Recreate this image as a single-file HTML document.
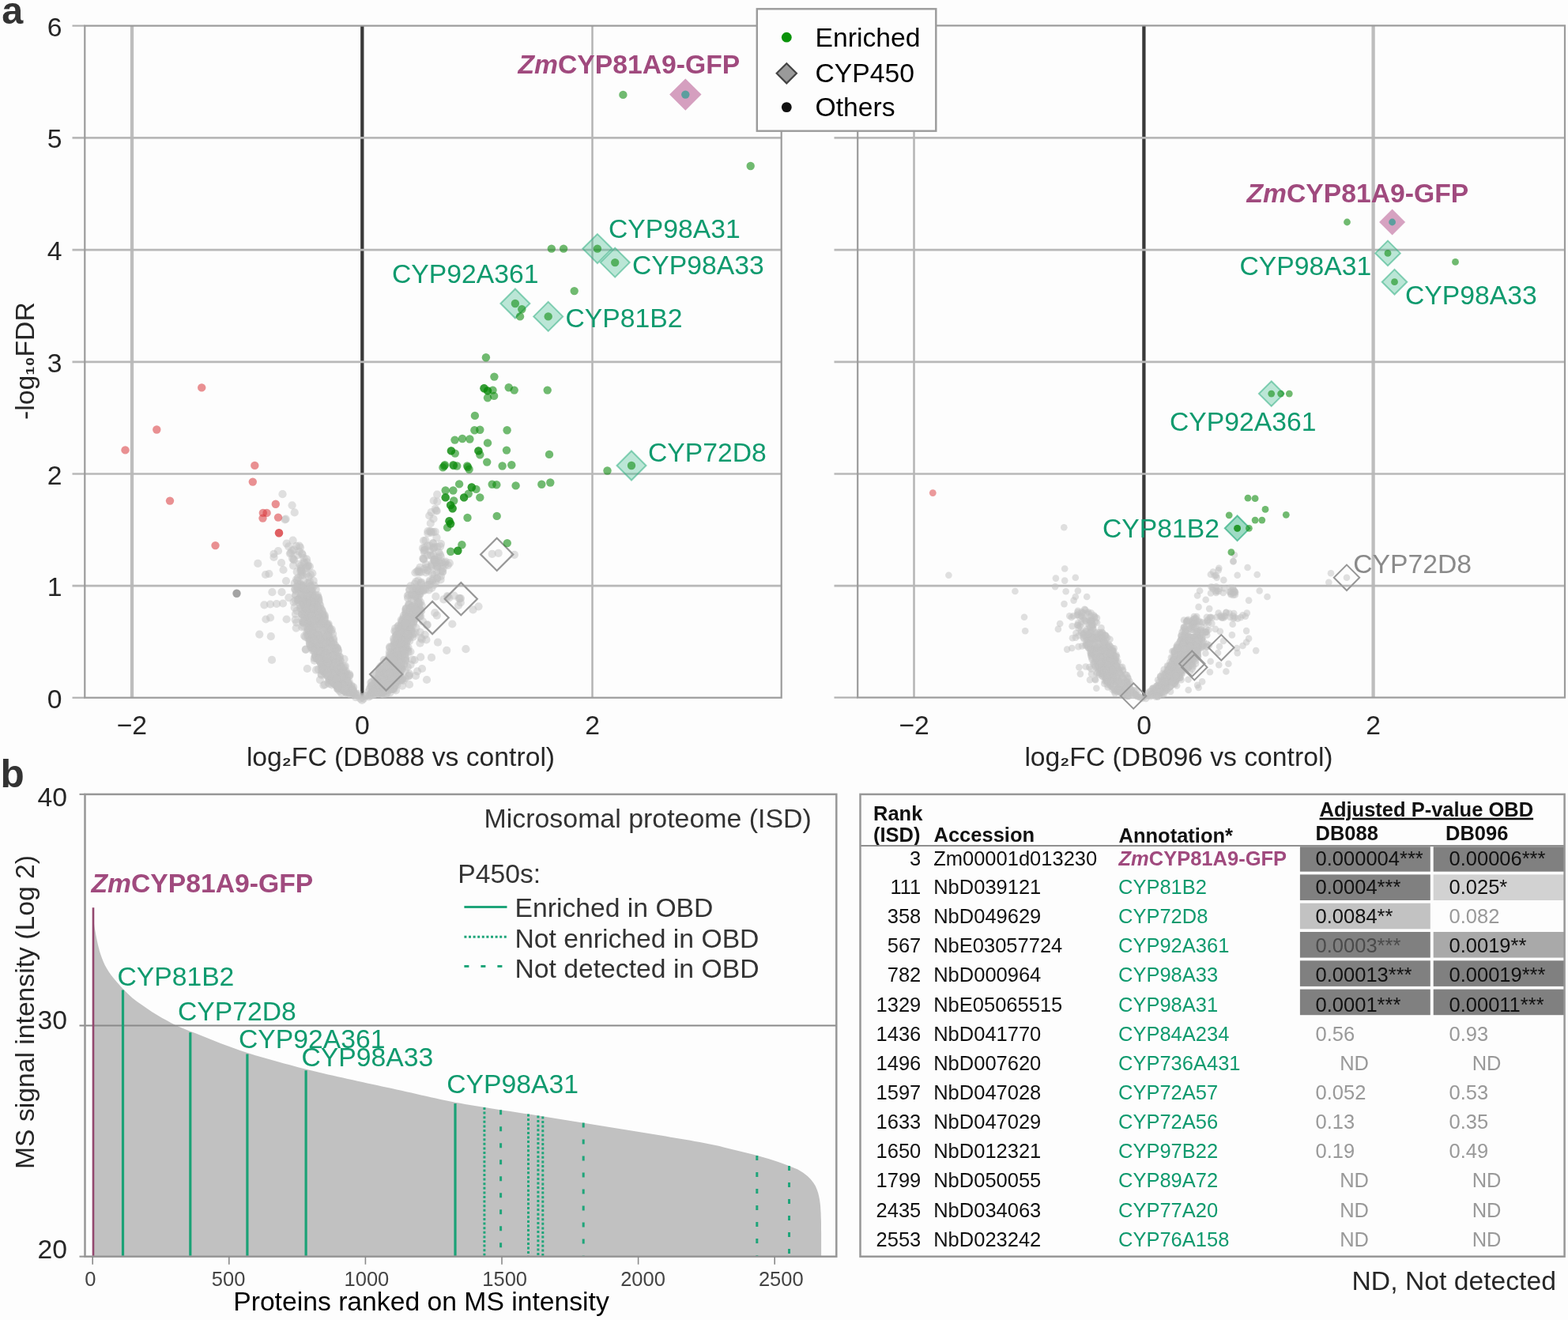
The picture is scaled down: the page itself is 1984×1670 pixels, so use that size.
<!DOCTYPE html>
<html lang="en">
<head>
<meta charset="utf-8">
<title>Proteomics of oil body domains: volcano plots, ranked MS intensity and P450 table</title>
<style>
html,body{margin:0;padding:0;background:#fdfdfd;}
body{width:1984px;height:1670px;overflow:hidden;}
svg{display:block;font-family:'Liberation Sans', Arial, Helvetica, sans-serif;font-size:33.7px;}
</style>
</head>
<body>
<svg width="1984" height="1670" viewBox="0 0 1984 1670" fill="#262626">
<rect width="1984" height="1670" fill="#fdfdfd"/>
<line x1="167" y1="32.6" x2="167" y2="882.7" stroke="#bdbdbd" stroke-width="4.3"/>
<line x1="749.5" y1="32.6" x2="749.5" y2="882.7" stroke="#b4b4b4" stroke-width="2.5"/>
<line x1="458.3" y1="32.6" x2="458.3" y2="882.7" stroke="#3a3a3a" stroke-width="4.3"/>
<line x1="91.5" y1="174.4" x2="988.7" y2="174.4" stroke="#b8b8b8" stroke-width="2.6"/>
<line x1="91.5" y1="316.1" x2="988.7" y2="316.1" stroke="#b8b8b8" stroke-width="2.6"/>
<line x1="91.5" y1="457.9" x2="988.7" y2="457.9" stroke="#b8b8b8" stroke-width="2.6"/>
<line x1="91.5" y1="599.5" x2="988.7" y2="599.5" stroke="#b8b8b8" stroke-width="2.6"/>
<line x1="91.5" y1="741.1" x2="988.7" y2="741.1" stroke="#b8b8b8" stroke-width="2.6"/>
<line x1="91.5" y1="32.6" x2="107.3" y2="32.6" stroke="#b0b0b0" stroke-width="2.2"/>
<line x1="91.5" y1="882.7" x2="107.3" y2="882.7" stroke="#b0b0b0" stroke-width="2.2"/>
<rect x="107.3" y="32.6" width="881.4" height="850.1" fill="none" stroke="#9b9b9b" stroke-width="2.2"/>
<path d="M376 754.7L382 768.8L385 782.9L388 797L392 811L398 825L402 839L408 853.5L420.5 867.6L432 876L449 882L454 882L449 876L445 867.6L440.5 853.5L433 839L427 825L421.5 811L417 797L410 782.9L405.5 768.8L400 754.7Z" fill="#cdcdcd" stroke="#cdcdcd" stroke-width="3" stroke-linejoin="round"/>
<path d="M516 769L510.7 783L503.6 797L499.4 811L495 825.2L488 839.3L477 853.5L470.5 867.6L467 874.6L463 882L471 882L499 874.6L503 867.6L509.5 853.5L511 839.3L513 825.2L515.5 811L519 797L524.5 783L533 769Z" fill="#cdcdcd" stroke="#cdcdcd" stroke-width="3" stroke-linejoin="round"/>
<g fill="#c2c2c2" fill-opacity="0.5">
<circle cx="404.4" cy="788.7" r="5.1"/><circle cx="383.2" cy="747.9" r="5.1"/><circle cx="373.8" cy="745.4" r="5.1"/><circle cx="390.5" cy="803.9" r="5.1"/><circle cx="391.4" cy="803.2" r="5.1"/><circle cx="407.9" cy="773.1" r="5.1"/><circle cx="428.1" cy="823.1" r="5.1"/><circle cx="380.6" cy="743.2" r="5.1"/><circle cx="384.6" cy="759.9" r="5.1"/><circle cx="427.1" cy="853" r="5.1"/><circle cx="416.3" cy="831.1" r="5.1"/><circle cx="378.5" cy="745.8" r="5.1"/><circle cx="410" cy="836.6" r="5.1"/><circle cx="405.4" cy="824.4" r="5.1"/><circle cx="413.5" cy="850.9" r="5.1"/><circle cx="424.6" cy="823.2" r="5.1"/><circle cx="436.8" cy="842.7" r="5.1"/><circle cx="395.9" cy="755.8" r="5.1"/><circle cx="377.4" cy="761.3" r="5.1"/><circle cx="418.9" cy="835.6" r="5.1"/><circle cx="435" cy="860.4" r="5.1"/><circle cx="411.2" cy="825.7" r="5.1"/><circle cx="425.2" cy="856.5" r="5.1"/><circle cx="423.1" cy="834.6" r="5.1"/><circle cx="426.6" cy="832.7" r="5.1"/><circle cx="402.5" cy="782.7" r="5.1"/><circle cx="376.9" cy="738.7" r="5.1"/><circle cx="395.9" cy="754.9" r="5.1"/><circle cx="386" cy="757.5" r="5.1"/><circle cx="426.2" cy="859.7" r="5.1"/><circle cx="421.3" cy="819.8" r="5.1"/><circle cx="424.4" cy="858.6" r="5.1"/><circle cx="416.7" cy="794" r="5.1"/><circle cx="382.9" cy="761.1" r="5.1"/><circle cx="398" cy="774.8" r="5.1"/><circle cx="394.2" cy="779.4" r="5.1"/><circle cx="417.4" cy="795.7" r="5.1"/><circle cx="421.3" cy="837.9" r="5.1"/><circle cx="430.6" cy="835.8" r="5.1"/><circle cx="433.3" cy="849.2" r="5.1"/><circle cx="389.4" cy="798.6" r="5.1"/><circle cx="399.3" cy="830.3" r="5.1"/><circle cx="389.5" cy="770.3" r="5.1"/><circle cx="376.8" cy="743.9" r="5.1"/><circle cx="374" cy="752.7" r="5.1"/><circle cx="416.7" cy="860.6" r="5.1"/><circle cx="392.1" cy="777.8" r="5.1"/><circle cx="403.2" cy="756.7" r="5.1"/><circle cx="391.7" cy="808.5" r="5.1"/><circle cx="380.9" cy="752.7" r="5.1"/><circle cx="406.9" cy="854.2" r="5.1"/><circle cx="427.2" cy="871.6" r="5.1"/><circle cx="410.8" cy="818.6" r="5.1"/><circle cx="445.9" cy="876.7" r="5.1"/><circle cx="386.5" cy="779" r="5.1"/><circle cx="431.9" cy="847.7" r="5.1"/><circle cx="409.8" cy="789.3" r="5.1"/><circle cx="449.6" cy="877.9" r="5.1"/><circle cx="413.9" cy="853.4" r="5.1"/><circle cx="392.2" cy="815.1" r="5.1"/><circle cx="379.4" cy="739.8" r="5.1"/><circle cx="415.3" cy="838.2" r="5.1"/><circle cx="447.2" cy="869.4" r="5.1"/><circle cx="392.6" cy="794.9" r="5.1"/><circle cx="397.2" cy="768.5" r="5.1"/><circle cx="429.8" cy="863.8" r="5.1"/><circle cx="400.7" cy="833.2" r="5.1"/><circle cx="425.9" cy="834.5" r="5.1"/><circle cx="408.6" cy="845.2" r="5.1"/><circle cx="433.9" cy="850" r="5.1"/><circle cx="437.5" cy="875.2" r="5.1"/><circle cx="427.2" cy="871.1" r="5.1"/><circle cx="400.7" cy="756.8" r="5.1"/><circle cx="435.7" cy="851.8" r="5.1"/><circle cx="438.4" cy="876.6" r="5.1"/><circle cx="393.4" cy="819.3" r="5.1"/><circle cx="440" cy="874.7" r="5.1"/><circle cx="444.3" cy="868.5" r="5.1"/><circle cx="415.5" cy="854.3" r="5.1"/><circle cx="400.5" cy="783.8" r="5.1"/><circle cx="385.5" cy="779.1" r="5.1"/><circle cx="430.1" cy="865.4" r="5.1"/><circle cx="409.4" cy="824.1" r="5.1"/><circle cx="432.8" cy="866.1" r="5.1"/><circle cx="406.8" cy="816.2" r="5.1"/><circle cx="401.2" cy="765.9" r="5.1"/><circle cx="398.4" cy="764.4" r="5.1"/><circle cx="411.3" cy="820.6" r="5.1"/><circle cx="397" cy="820.3" r="5.1"/><circle cx="403" cy="820.6" r="5.1"/><circle cx="423.8" cy="847.7" r="5.1"/><circle cx="419" cy="846.7" r="5.1"/><circle cx="414" cy="828.1" r="5.1"/><circle cx="418.5" cy="838.5" r="5.1"/><circle cx="413.5" cy="810.6" r="5.1"/><circle cx="420.6" cy="860.8" r="5.1"/><circle cx="422.5" cy="821" r="5.1"/><circle cx="387.9" cy="758.7" r="5.1"/><circle cx="375" cy="747.7" r="5.1"/><circle cx="430.5" cy="835.6" r="5.1"/><circle cx="395.6" cy="762.1" r="5.1"/><circle cx="403.6" cy="759.7" r="5.1"/><circle cx="391.8" cy="772.6" r="5.1"/><circle cx="418.6" cy="811.9" r="5.1"/><circle cx="391.6" cy="762.5" r="5.1"/><circle cx="394.5" cy="791.2" r="5.1"/><circle cx="420.5" cy="841.3" r="5.1"/><circle cx="399" cy="804.5" r="5.1"/><circle cx="398.9" cy="829.3" r="5.1"/><circle cx="452.7" cy="877.9" r="5.1"/><circle cx="374.4" cy="753.2" r="5.1"/><circle cx="408.3" cy="848.8" r="5.1"/><circle cx="415.2" cy="802.6" r="5.1"/><circle cx="408.9" cy="778.9" r="5.1"/><circle cx="397.5" cy="822.7" r="5.1"/><circle cx="384.6" cy="745.5" r="5.1"/><circle cx="390.9" cy="748.1" r="5.1"/><circle cx="436.5" cy="851.1" r="5.1"/><circle cx="385.6" cy="746.9" r="5.1"/><circle cx="414.4" cy="791.4" r="5.1"/><circle cx="397.6" cy="780.1" r="5.1"/><circle cx="385.5" cy="775.2" r="5.1"/><circle cx="381.3" cy="744" r="5.1"/><circle cx="392.1" cy="786" r="5.1"/><circle cx="402.1" cy="812.6" r="5.1"/><circle cx="372.8" cy="737.9" r="5.1"/><circle cx="408.2" cy="843.4" r="5.1"/><circle cx="392.8" cy="810" r="5.1"/><circle cx="423.9" cy="853.2" r="5.1"/><circle cx="425.4" cy="855" r="5.1"/><circle cx="411.5" cy="838.2" r="5.1"/><circle cx="430.3" cy="855.2" r="5.1"/><circle cx="388.3" cy="800.4" r="5.1"/><circle cx="396.1" cy="757.4" r="5.1"/><circle cx="383.9" cy="778.3" r="5.1"/><circle cx="432.2" cy="856.5" r="5.1"/><circle cx="391.2" cy="782.6" r="5.1"/><circle cx="403.9" cy="807.7" r="5.1"/><circle cx="410.9" cy="780" r="5.1"/><circle cx="426.2" cy="819.4" r="5.1"/><circle cx="383.3" cy="787" r="5.1"/><circle cx="402.5" cy="796.8" r="5.1"/><circle cx="379.6" cy="769.3" r="5.1"/><circle cx="393.6" cy="779.5" r="5.1"/><circle cx="380.8" cy="742.1" r="5.1"/><circle cx="396.2" cy="774.9" r="5.1"/><circle cx="428.4" cy="845.3" r="5.1"/><circle cx="423" cy="861.1" r="5.1"/><circle cx="447.6" cy="877.5" r="5.1"/><circle cx="426.6" cy="831.5" r="5.1"/><circle cx="437.3" cy="862.5" r="5.1"/><circle cx="424.6" cy="852.4" r="5.1"/><circle cx="418.4" cy="813.6" r="5.1"/><circle cx="439.4" cy="854.5" r="5.1"/><circle cx="407.2" cy="837.4" r="5.1"/><circle cx="382.2" cy="740.3" r="5.1"/><circle cx="389.5" cy="753.6" r="5.1"/><circle cx="420.6" cy="830" r="5.1"/><circle cx="417.2" cy="811.3" r="5.1"/><circle cx="421.7" cy="845.3" r="5.1"/><circle cx="424.1" cy="834" r="5.1"/><circle cx="389.1" cy="777.6" r="5.1"/><circle cx="428" cy="842.6" r="5.1"/><circle cx="437.8" cy="875.9" r="5.1"/><circle cx="415.8" cy="810.5" r="5.1"/><circle cx="399.2" cy="828.8" r="5.1"/><circle cx="397.4" cy="760.6" r="5.1"/><circle cx="383.4" cy="785.9" r="5.1"/><circle cx="391.6" cy="745.9" r="5.1"/><circle cx="409.6" cy="838" r="5.1"/><circle cx="407.3" cy="815.2" r="5.1"/><circle cx="379.8" cy="756.1" r="5.1"/><circle cx="431.9" cy="876.8" r="5.1"/><circle cx="421.9" cy="807.5" r="5.1"/><circle cx="395.2" cy="805.9" r="5.1"/><circle cx="437.4" cy="870.2" r="5.1"/><circle cx="403.1" cy="759.5" r="5.1"/><circle cx="389.8" cy="758.5" r="5.1"/><circle cx="420.5" cy="861.9" r="5.1"/><circle cx="415.2" cy="863.6" r="5.1"/><circle cx="384.3" cy="735.6" r="5.1"/><circle cx="393.6" cy="785.6" r="5.1"/><circle cx="383.5" cy="787.9" r="5.1"/><circle cx="406.5" cy="845.5" r="5.1"/><circle cx="444.6" cy="867.4" r="5.1"/><circle cx="394.6" cy="783.9" r="5.1"/><circle cx="450.1" cy="882.1" r="5.1"/><circle cx="388.9" cy="803.5" r="5.1"/><circle cx="381.5" cy="753" r="5.1"/><circle cx="427.4" cy="869" r="5.1"/><circle cx="403.8" cy="814.4" r="5.1"/><circle cx="445.1" cy="872.4" r="5.1"/><circle cx="430" cy="830.8" r="5.1"/><circle cx="394.8" cy="819.7" r="5.1"/><circle cx="428.8" cy="843.4" r="5.1"/><circle cx="399.2" cy="832.3" r="5.1"/><circle cx="431.6" cy="867.1" r="5.1"/><circle cx="408.5" cy="791.8" r="5.1"/><circle cx="443.8" cy="875.7" r="5.1"/><circle cx="395.1" cy="785.3" r="5.1"/><circle cx="383.2" cy="763.6" r="5.1"/><circle cx="422.3" cy="864.8" r="5.1"/><circle cx="429.7" cy="865.2" r="5.1"/><circle cx="377.7" cy="758.7" r="5.1"/><circle cx="391.9" cy="791.1" r="5.1"/><circle cx="408" cy="779.1" r="5.1"/><circle cx="417.2" cy="845.2" r="5.1"/><circle cx="403.4" cy="816.4" r="5.1"/><circle cx="399.8" cy="745.9" r="5.1"/><circle cx="392.7" cy="757.1" r="5.1"/><circle cx="419.3" cy="858.6" r="5.1"/><circle cx="394.4" cy="777.2" r="5.1"/><circle cx="446.3" cy="871.8" r="5.1"/><circle cx="391.4" cy="738.4" r="5.1"/><circle cx="432.8" cy="863" r="5.1"/><circle cx="396.7" cy="734.9" r="5.1"/><circle cx="442.4" cy="854.7" r="5.1"/><circle cx="385.7" cy="777" r="5.1"/><circle cx="424" cy="816" r="5.1"/><circle cx="428.4" cy="841.7" r="5.1"/><circle cx="389.7" cy="807.3" r="5.1"/><circle cx="437.7" cy="848.8" r="5.1"/><circle cx="402" cy="832.3" r="5.1"/><circle cx="402.1" cy="778" r="5.1"/><circle cx="388.7" cy="754.3" r="5.1"/><circle cx="402.5" cy="823.7" r="5.1"/><circle cx="406" cy="826" r="5.1"/><circle cx="410.9" cy="808.2" r="5.1"/><circle cx="420.5" cy="861.8" r="5.1"/><circle cx="402.1" cy="777.5" r="5.1"/><circle cx="398.6" cy="786.2" r="5.1"/><circle cx="407.7" cy="836" r="5.1"/><circle cx="406.4" cy="835.1" r="5.1"/><circle cx="383.9" cy="741" r="5.1"/><circle cx="427.3" cy="836.5" r="5.1"/><circle cx="409" cy="844" r="5.1"/><circle cx="446.7" cy="874.5" r="5.1"/><circle cx="402.8" cy="774" r="5.1"/><circle cx="398.1" cy="784.9" r="5.1"/><circle cx="390.5" cy="766.7" r="5.1"/><circle cx="403.5" cy="835.1" r="5.1"/><circle cx="419.2" cy="798.5" r="5.1"/><circle cx="377.1" cy="759.2" r="5.1"/><circle cx="416.2" cy="798.9" r="5.1"/><circle cx="435.5" cy="843.7" r="5.1"/><circle cx="413.7" cy="789.3" r="5.1"/><circle cx="426" cy="844.4" r="5.1"/><circle cx="396.7" cy="796.8" r="5.1"/><circle cx="385.5" cy="764.1" r="5.1"/><circle cx="388.8" cy="793.5" r="5.1"/><circle cx="434.4" cy="873.2" r="5.1"/><circle cx="422" cy="854" r="5.1"/><circle cx="382.9" cy="743.6" r="5.1"/><circle cx="428" cy="866.5" r="5.1"/><circle cx="427.3" cy="863.3" r="5.1"/><circle cx="406.6" cy="852.8" r="5.1"/><circle cx="397.5" cy="740.9" r="5.1"/><circle cx="408.2" cy="778.6" r="5.1"/><circle cx="415.3" cy="791.2" r="5.1"/><circle cx="421.3" cy="828.6" r="5.1"/><circle cx="383.5" cy="787.5" r="5.1"/><circle cx="425.8" cy="846.1" r="5.1"/><circle cx="427.7" cy="870.1" r="5.1"/><circle cx="422.2" cy="810" r="5.1"/><circle cx="400.2" cy="797.3" r="5.1"/><circle cx="396.4" cy="812.4" r="5.1"/><circle cx="435.4" cy="851.5" r="5.1"/><circle cx="415.5" cy="848.4" r="5.1"/><circle cx="408.3" cy="788.2" r="5.1"/><circle cx="394.4" cy="748.9" r="5.1"/><circle cx="382.1" cy="777" r="5.1"/><circle cx="427" cy="820" r="5.1"/><circle cx="421.7" cy="862.1" r="5.1"/><circle cx="387.2" cy="749.5" r="5.1"/><circle cx="408.5" cy="840.3" r="5.1"/><circle cx="410" cy="801.8" r="5.1"/><circle cx="426.6" cy="845.5" r="5.1"/><circle cx="382.5" cy="756" r="5.1"/><circle cx="419.4" cy="821.9" r="5.1"/><circle cx="386.5" cy="769.1" r="5.1"/><circle cx="393.1" cy="761.6" r="5.1"/><circle cx="415.6" cy="789.4" r="5.1"/><circle cx="418.6" cy="813.8" r="5.1"/><circle cx="401.4" cy="833.3" r="5.1"/><circle cx="418.2" cy="809.9" r="5.1"/><circle cx="425.3" cy="865.8" r="5.1"/><circle cx="402.2" cy="755.6" r="5.1"/><circle cx="407.7" cy="824.1" r="5.1"/><circle cx="419.5" cy="859.3" r="5.1"/><circle cx="407.3" cy="848.6" r="5.1"/><circle cx="403.1" cy="825.7" r="5.1"/><circle cx="391.9" cy="795.4" r="5.1"/><circle cx="400.9" cy="778.5" r="5.1"/><circle cx="389" cy="769.6" r="5.1"/><circle cx="409.9" cy="836.5" r="5.1"/><circle cx="395.5" cy="770.1" r="5.1"/><circle cx="383.8" cy="745.8" r="5.1"/><circle cx="396.2" cy="819.6" r="5.1"/><circle cx="388.9" cy="763.3" r="5.1"/><circle cx="411.1" cy="782.7" r="5.1"/><circle cx="394.5" cy="787.1" r="5.1"/><circle cx="421.1" cy="802" r="5.1"/><circle cx="409.1" cy="794.2" r="5.1"/><circle cx="405.5" cy="769.6" r="5.1"/><circle cx="401.1" cy="803.2" r="5.1"/><circle cx="417.6" cy="861.2" r="5.1"/><circle cx="389.5" cy="737.5" r="5.1"/><circle cx="434.8" cy="864.6" r="5.1"/><circle cx="390" cy="795.6" r="5.1"/><circle cx="410.3" cy="782.8" r="5.1"/><circle cx="396.8" cy="754" r="5.1"/><circle cx="429.5" cy="873.9" r="5.1"/><circle cx="435.1" cy="870.7" r="5.1"/><circle cx="383.4" cy="744.4" r="5.1"/><circle cx="441" cy="864.3" r="5.1"/><circle cx="383.2" cy="762.7" r="5.1"/><circle cx="414.7" cy="800.1" r="5.1"/><circle cx="389.7" cy="766.1" r="5.1"/><circle cx="395.4" cy="815.2" r="5.1"/><circle cx="407.8" cy="777.4" r="5.1"/><circle cx="393.3" cy="742.4" r="5.1"/><circle cx="375.7" cy="741.9" r="5.1"/><circle cx="417.3" cy="826.3" r="5.1"/><circle cx="401.3" cy="786.4" r="5.1"/><circle cx="402.5" cy="803.1" r="5.1"/><circle cx="408.9" cy="804.5" r="5.1"/><circle cx="416.1" cy="811.4" r="5.1"/><circle cx="410.2" cy="848.9" r="5.1"/><circle cx="393.4" cy="809.5" r="5.1"/><circle cx="402.4" cy="803.3" r="5.1"/><circle cx="412.8" cy="814.3" r="5.1"/><circle cx="395.2" cy="749.8" r="5.1"/><circle cx="408.3" cy="814.4" r="5.1"/><circle cx="390.1" cy="797.1" r="5.1"/><circle cx="435.3" cy="858.4" r="5.1"/><circle cx="442.2" cy="853" r="5.1"/><circle cx="421.8" cy="812.5" r="5.1"/><circle cx="404" cy="763.4" r="5.1"/><circle cx="394" cy="746.5" r="5.1"/><circle cx="384.8" cy="762.8" r="5.1"/><circle cx="424.1" cy="853" r="5.1"/><circle cx="424.9" cy="866.5" r="5.1"/><circle cx="391.9" cy="813.9" r="5.1"/><circle cx="405.2" cy="766" r="5.1"/><circle cx="404.9" cy="836.9" r="5.1"/><circle cx="423.4" cy="849.3" r="5.1"/><circle cx="427.7" cy="831.1" r="5.1"/><circle cx="423.7" cy="820.2" r="5.1"/><circle cx="391.6" cy="753.7" r="5.1"/><circle cx="395" cy="798.9" r="5.1"/><circle cx="443.7" cy="879" r="5.1"/><circle cx="409.3" cy="847.1" r="5.1"/><circle cx="431.8" cy="844.4" r="5.1"/><circle cx="410.6" cy="778" r="5.1"/><circle cx="405.9" cy="824.5" r="5.1"/><circle cx="376.3" cy="734.7" r="5.1"/><circle cx="414.3" cy="828.7" r="5.1"/><circle cx="421" cy="862.8" r="5.1"/><circle cx="397.7" cy="832.7" r="5.1"/><circle cx="396.3" cy="792.9" r="5.1"/><circle cx="397.5" cy="773" r="5.1"/><circle cx="393.3" cy="770" r="5.1"/><circle cx="382.1" cy="758.5" r="5.1"/><circle cx="394.4" cy="760.5" r="5.1"/><circle cx="424.9" cy="860.1" r="5.1"/><circle cx="400.9" cy="779.4" r="5.1"/><circle cx="416" cy="821.3" r="5.1"/><circle cx="413.2" cy="805.7" r="5.1"/><circle cx="382.6" cy="777.5" r="5.1"/><circle cx="400.2" cy="817" r="5.1"/><circle cx="373.1" cy="745.6" r="5.1"/><circle cx="398.1" cy="819.8" r="5.1"/><circle cx="394.1" cy="769.4" r="5.1"/><circle cx="403.5" cy="832" r="5.1"/><circle cx="384.8" cy="786.9" r="5.1"/><circle cx="436.7" cy="862.6" r="5.1"/><circle cx="392" cy="735.8" r="5.1"/><circle cx="404.4" cy="808.6" r="5.1"/><circle cx="387.1" cy="773.3" r="5.1"/><circle cx="393" cy="741.6" r="5.1"/><circle cx="425.1" cy="838.7" r="5.1"/><circle cx="394.8" cy="779.7" r="5.1"/><circle cx="413.9" cy="850.2" r="5.1"/><circle cx="405.1" cy="832.1" r="5.1"/><circle cx="420.7" cy="860.9" r="5.1"/><circle cx="408.6" cy="775.6" r="5.1"/><circle cx="434.1" cy="844.5" r="5.1"/><circle cx="412.8" cy="789.4" r="5.1"/><circle cx="420.3" cy="830.7" r="5.1"/><circle cx="448.6" cy="876.5" r="5.1"/><circle cx="415.4" cy="839.3" r="5.1"/><circle cx="412" cy="842.2" r="5.1"/><circle cx="382.2" cy="771.2" r="5.1"/><circle cx="416.6" cy="865.2" r="5.1"/><circle cx="383.3" cy="753.6" r="5.1"/><circle cx="376.5" cy="759.2" r="5.1"/><circle cx="424.5" cy="838.6" r="5.1"/><circle cx="422.7" cy="843.1" r="5.1"/><circle cx="412.4" cy="794.6" r="5.1"/><circle cx="441.5" cy="862.1" r="5.1"/><circle cx="420" cy="866.3" r="5.1"/><circle cx="380.6" cy="769.7" r="5.1"/><circle cx="431.2" cy="857.1" r="5.1"/><circle cx="417" cy="854.5" r="5.1"/><circle cx="395.1" cy="752.5" r="5.1"/><circle cx="391.8" cy="769.8" r="5.1"/><circle cx="380" cy="738.5" r="5.1"/><circle cx="411.9" cy="840.9" r="5.1"/><circle cx="446.7" cy="873.4" r="5.1"/><circle cx="410.7" cy="828.4" r="5.1"/><circle cx="399.6" cy="805" r="5.1"/><circle cx="407.6" cy="839.8" r="5.1"/><circle cx="438.4" cy="858.5" r="5.1"/><circle cx="383.2" cy="764.1" r="5.1"/><circle cx="402.8" cy="846.8" r="5.1"/><circle cx="417.3" cy="811.6" r="5.1"/><circle cx="388.6" cy="766.8" r="5.1"/><circle cx="441.5" cy="854.9" r="5.1"/><circle cx="403.4" cy="782.6" r="5.1"/><circle cx="412.1" cy="812.5" r="5.1"/><circle cx="375" cy="690.9" r="5.1"/><circle cx="380.7" cy="727.7" r="5.1"/><circle cx="388.6" cy="711.4" r="5.1"/><circle cx="365.1" cy="691.3" r="5.1"/><circle cx="382.1" cy="700.3" r="5.1"/><circle cx="390.2" cy="715.9" r="5.1"/><circle cx="376.5" cy="702.1" r="5.1"/><circle cx="387.7" cy="726.4" r="5.1"/><circle cx="371.8" cy="708.5" r="5.1"/><circle cx="390.7" cy="729.6" r="5.1"/><circle cx="378.5" cy="697.7" r="5.1"/><circle cx="381.4" cy="719.3" r="5.1"/><circle cx="377" cy="731" r="5.1"/><circle cx="384.5" cy="706" r="5.1"/><circle cx="369.5" cy="696.6" r="5.1"/><circle cx="371.6" cy="707.5" r="5.1"/><circle cx="388" cy="707.4" r="5.1"/><circle cx="395.3" cy="725.4" r="5.1"/><circle cx="380" cy="692.5" r="5.1"/><circle cx="382.7" cy="727.9" r="5.1"/><circle cx="367.9" cy="699.5" r="5.1"/><circle cx="366.9" cy="700.3" r="5.1"/><circle cx="384.3" cy="711.2" r="5.1"/><circle cx="380.7" cy="716" r="5.1"/><circle cx="371.8" cy="695.6" r="5.1"/><circle cx="382.3" cy="726" r="5.1"/><circle cx="380.5" cy="719.2" r="5.1"/><circle cx="382.6" cy="701.7" r="5.1"/><circle cx="393" cy="727" r="5.1"/><circle cx="382.3" cy="723.5" r="5.1"/><circle cx="370" cy="706.6" r="5.1"/><circle cx="385.2" cy="712.3" r="5.1"/><circle cx="381" cy="721.3" r="5.1"/><circle cx="378.9" cy="713.8" r="5.1"/><circle cx="375.7" cy="723.4" r="5.1"/><circle cx="380.4" cy="722.5" r="5.1"/><circle cx="371" cy="715.6" r="5.1"/><circle cx="388.4" cy="717.8" r="5.1"/><circle cx="375" cy="733.1" r="5.1"/><circle cx="387.4" cy="719.2" r="5.1"/><circle cx="389.1" cy="716.4" r="5.1"/><circle cx="391.9" cy="716.8" r="5.1"/><circle cx="515.1" cy="784.1" r="5.1"/><circle cx="509.2" cy="858.6" r="5.1"/><circle cx="503.2" cy="809.2" r="5.1"/><circle cx="504.4" cy="816" r="5.1"/><circle cx="502" cy="819.8" r="5.1"/><circle cx="517.5" cy="794" r="5.1"/><circle cx="472.5" cy="874.6" r="5.1"/><circle cx="478.4" cy="862.1" r="5.1"/><circle cx="530.8" cy="770" r="5.1"/><circle cx="498.2" cy="846.8" r="5.1"/><circle cx="512.6" cy="787.6" r="5.1"/><circle cx="506.5" cy="847.6" r="5.1"/><circle cx="504.6" cy="826.9" r="5.1"/><circle cx="521.1" cy="769.4" r="5.1"/><circle cx="482.6" cy="866.6" r="5.1"/><circle cx="507.3" cy="791.9" r="5.1"/><circle cx="522.4" cy="746.1" r="5.1"/><circle cx="513.7" cy="790.7" r="5.1"/><circle cx="508.7" cy="820.9" r="5.1"/><circle cx="515" cy="810.8" r="5.1"/><circle cx="528.6" cy="756.4" r="5.1"/><circle cx="502.4" cy="860.8" r="5.1"/><circle cx="480.1" cy="846.6" r="5.1"/><circle cx="472" cy="875.9" r="5.1"/><circle cx="518.3" cy="765.1" r="5.1"/><circle cx="477.2" cy="859.8" r="5.1"/><circle cx="472.3" cy="871.4" r="5.1"/><circle cx="495.9" cy="870.2" r="5.1"/><circle cx="504.9" cy="850.5" r="5.1"/><circle cx="495" cy="865.4" r="5.1"/><circle cx="499" cy="835.7" r="5.1"/><circle cx="476.9" cy="869.6" r="5.1"/><circle cx="515.1" cy="788.3" r="5.1"/><circle cx="516.1" cy="756.7" r="5.1"/><circle cx="503.3" cy="830.4" r="5.1"/><circle cx="499.6" cy="867.6" r="5.1"/><circle cx="507.3" cy="827.1" r="5.1"/><circle cx="484.7" cy="865.5" r="5.1"/><circle cx="484.2" cy="876.1" r="5.1"/><circle cx="499.7" cy="847.2" r="5.1"/><circle cx="487.6" cy="852.2" r="5.1"/><circle cx="472.8" cy="879.2" r="5.1"/><circle cx="493.4" cy="870.4" r="5.1"/><circle cx="508.3" cy="846.2" r="5.1"/><circle cx="508" cy="811.2" r="5.1"/><circle cx="488.2" cy="859.2" r="5.1"/><circle cx="512.6" cy="820.3" r="5.1"/><circle cx="508.8" cy="798.9" r="5.1"/><circle cx="502.2" cy="831.4" r="5.1"/><circle cx="482.9" cy="878.1" r="5.1"/><circle cx="504.8" cy="805.4" r="5.1"/><circle cx="506.7" cy="842.4" r="5.1"/><circle cx="530.7" cy="752.4" r="5.1"/><circle cx="494.8" cy="837" r="5.1"/><circle cx="538.2" cy="746.4" r="5.1"/><circle cx="506.3" cy="844.7" r="5.1"/><circle cx="488.8" cy="871.9" r="5.1"/><circle cx="499.5" cy="846.4" r="5.1"/><circle cx="500.3" cy="851.2" r="5.1"/><circle cx="494.6" cy="825.5" r="5.1"/><circle cx="525.3" cy="778.6" r="5.1"/><circle cx="479.3" cy="872.5" r="5.1"/><circle cx="490.5" cy="864.6" r="5.1"/><circle cx="511.6" cy="792.9" r="5.1"/><circle cx="512.6" cy="803.2" r="5.1"/><circle cx="485.9" cy="873.8" r="5.1"/><circle cx="529.6" cy="752" r="5.1"/><circle cx="497.2" cy="840.9" r="5.1"/><circle cx="529" cy="747.6" r="5.1"/><circle cx="482.2" cy="874.3" r="5.1"/><circle cx="508.9" cy="818.3" r="5.1"/><circle cx="507.7" cy="784.3" r="5.1"/><circle cx="518.3" cy="746.7" r="5.1"/><circle cx="489.8" cy="876.7" r="5.1"/><circle cx="529.1" cy="769.5" r="5.1"/><circle cx="508.1" cy="790.3" r="5.1"/><circle cx="525.4" cy="754.7" r="5.1"/><circle cx="471.2" cy="867.4" r="5.1"/><circle cx="495.1" cy="846.4" r="5.1"/><circle cx="501" cy="873.4" r="5.1"/><circle cx="474.5" cy="854.5" r="5.1"/><circle cx="480.8" cy="848.7" r="5.1"/><circle cx="502.9" cy="802.2" r="5.1"/><circle cx="470.3" cy="867.3" r="5.1"/><circle cx="506.1" cy="811.2" r="5.1"/><circle cx="505" cy="851.2" r="5.1"/><circle cx="510.3" cy="810.7" r="5.1"/><circle cx="511.9" cy="819" r="5.1"/><circle cx="485" cy="874.8" r="5.1"/><circle cx="520.7" cy="798.5" r="5.1"/><circle cx="486.8" cy="853.9" r="5.1"/><circle cx="507.7" cy="844.3" r="5.1"/><circle cx="495.5" cy="843.4" r="5.1"/><circle cx="492.4" cy="870" r="5.1"/><circle cx="507" cy="844.3" r="5.1"/><circle cx="506.6" cy="796.7" r="5.1"/><circle cx="512.3" cy="820.3" r="5.1"/><circle cx="498.1" cy="869.8" r="5.1"/><circle cx="491.3" cy="863.5" r="5.1"/><circle cx="518" cy="796.1" r="5.1"/><circle cx="488.2" cy="852.2" r="5.1"/><circle cx="528.7" cy="761.9" r="5.1"/><circle cx="526.2" cy="782.4" r="5.1"/><circle cx="518.6" cy="788.6" r="5.1"/><circle cx="497.9" cy="826.3" r="5.1"/><circle cx="489.7" cy="857.8" r="5.1"/><circle cx="528.5" cy="762.6" r="5.1"/><circle cx="522.9" cy="788.5" r="5.1"/><circle cx="484.8" cy="869.5" r="5.1"/><circle cx="489" cy="842.2" r="5.1"/><circle cx="516.8" cy="779" r="5.1"/><circle cx="499.9" cy="839.4" r="5.1"/><circle cx="533.1" cy="772.9" r="5.1"/><circle cx="510" cy="812.1" r="5.1"/><circle cx="493.5" cy="860.8" r="5.1"/><circle cx="498.2" cy="807.8" r="5.1"/><circle cx="531.4" cy="751.4" r="5.1"/><circle cx="496.8" cy="829.3" r="5.1"/><circle cx="506.9" cy="860.4" r="5.1"/><circle cx="508" cy="859.5" r="5.1"/><circle cx="507.7" cy="791.6" r="5.1"/><circle cx="510.8" cy="778.6" r="5.1"/><circle cx="498.4" cy="839.1" r="5.1"/><circle cx="466.2" cy="875.4" r="5.1"/><circle cx="485.9" cy="843.4" r="5.1"/><circle cx="481.6" cy="876.2" r="5.1"/><circle cx="501.4" cy="848.3" r="5.1"/><circle cx="498.9" cy="815.7" r="5.1"/><circle cx="469.4" cy="877.2" r="5.1"/><circle cx="520.9" cy="752.1" r="5.1"/><circle cx="497.3" cy="871.5" r="5.1"/><circle cx="525.8" cy="754.1" r="5.1"/><circle cx="479.9" cy="848.8" r="5.1"/><circle cx="532" cy="772.8" r="5.1"/><circle cx="497.5" cy="851.3" r="5.1"/><circle cx="484.5" cy="858" r="5.1"/><circle cx="513.1" cy="792.3" r="5.1"/><circle cx="513.5" cy="776.5" r="5.1"/><circle cx="502.1" cy="851.1" r="5.1"/><circle cx="527" cy="780.9" r="5.1"/><circle cx="523.1" cy="786.5" r="5.1"/><circle cx="483.5" cy="869.9" r="5.1"/><circle cx="530.4" cy="764.4" r="5.1"/><circle cx="491.2" cy="846.3" r="5.1"/><circle cx="493" cy="864.4" r="5.1"/><circle cx="513.5" cy="771.9" r="5.1"/><circle cx="479.2" cy="854.8" r="5.1"/><circle cx="483.1" cy="868.3" r="5.1"/><circle cx="529.1" cy="774.2" r="5.1"/><circle cx="508.7" cy="805.9" r="5.1"/><circle cx="501.5" cy="803.5" r="5.1"/><circle cx="484.8" cy="878.3" r="5.1"/><circle cx="493.9" cy="850.1" r="5.1"/><circle cx="505" cy="797.4" r="5.1"/><circle cx="518.1" cy="810.9" r="5.1"/><circle cx="476.2" cy="872.7" r="5.1"/><circle cx="493.7" cy="870.4" r="5.1"/><circle cx="500.6" cy="799.5" r="5.1"/><circle cx="475.5" cy="862.6" r="5.1"/><circle cx="528.5" cy="746.2" r="5.1"/><circle cx="527.5" cy="779.4" r="5.1"/><circle cx="509.4" cy="785.7" r="5.1"/><circle cx="523.8" cy="779" r="5.1"/><circle cx="510.4" cy="781.5" r="5.1"/><circle cx="490" cy="844.6" r="5.1"/><circle cx="521.3" cy="783.5" r="5.1"/><circle cx="477.5" cy="863.3" r="5.1"/><circle cx="520.7" cy="758" r="5.1"/><circle cx="504.2" cy="855.1" r="5.1"/><circle cx="516.4" cy="806.3" r="5.1"/><circle cx="512.7" cy="830.2" r="5.1"/><circle cx="497.3" cy="828.4" r="5.1"/><circle cx="516.6" cy="779.6" r="5.1"/><circle cx="523.3" cy="775.4" r="5.1"/><circle cx="526.3" cy="746.6" r="5.1"/><circle cx="507.1" cy="833.1" r="5.1"/><circle cx="481.6" cy="864.1" r="5.1"/><circle cx="502.4" cy="854.2" r="5.1"/><circle cx="529.9" cy="757.5" r="5.1"/><circle cx="503.1" cy="830.4" r="5.1"/><circle cx="513.2" cy="835.8" r="5.1"/><circle cx="508.3" cy="786.6" r="5.1"/><circle cx="504.4" cy="791.5" r="5.1"/><circle cx="517.4" cy="764.2" r="5.1"/><circle cx="528.1" cy="748.3" r="5.1"/><circle cx="490.5" cy="834.5" r="5.1"/><circle cx="469.1" cy="868.5" r="5.1"/><circle cx="524.4" cy="768.7" r="5.1"/><circle cx="509.7" cy="796.2" r="5.1"/><circle cx="531.4" cy="771" r="5.1"/><circle cx="528" cy="772.7" r="5.1"/><circle cx="529.9" cy="776.2" r="5.1"/><circle cx="514" cy="814.5" r="5.1"/><circle cx="512.7" cy="834.9" r="5.1"/><circle cx="480.6" cy="859.8" r="5.1"/><circle cx="518.9" cy="806" r="5.1"/><circle cx="500.8" cy="863" r="5.1"/><circle cx="488.2" cy="865.9" r="5.1"/><circle cx="471" cy="876.6" r="5.1"/><circle cx="502.1" cy="820.3" r="5.1"/><circle cx="499" cy="835.3" r="5.1"/><circle cx="492.7" cy="831.9" r="5.1"/><circle cx="488.4" cy="877.6" r="5.1"/><circle cx="508.9" cy="847" r="5.1"/><circle cx="491.2" cy="869.3" r="5.1"/><circle cx="507.9" cy="794.3" r="5.1"/><circle cx="503.6" cy="836.9" r="5.1"/><circle cx="512.5" cy="791.3" r="5.1"/><circle cx="475" cy="875.1" r="5.1"/><circle cx="498.7" cy="848.4" r="5.1"/><circle cx="472.7" cy="875.8" r="5.1"/><circle cx="495.3" cy="826.5" r="5.1"/><circle cx="519.9" cy="768.5" r="5.1"/><circle cx="500.2" cy="817.3" r="5.1"/><circle cx="529.7" cy="762.5" r="5.1"/><circle cx="501.9" cy="844.6" r="5.1"/><circle cx="517.2" cy="782.4" r="5.1"/><circle cx="499.1" cy="837.9" r="5.1"/><circle cx="504.1" cy="802" r="5.1"/><circle cx="503.7" cy="833.2" r="5.1"/><circle cx="535.4" cy="747.6" r="5.1"/><circle cx="514.4" cy="789.7" r="5.1"/><circle cx="506.8" cy="797.8" r="5.1"/><circle cx="474.1" cy="859.7" r="5.1"/><circle cx="469.9" cy="868.4" r="5.1"/><circle cx="511.7" cy="814.5" r="5.1"/><circle cx="533.6" cy="766.2" r="5.1"/><circle cx="485.8" cy="856.3" r="5.1"/><circle cx="510.5" cy="809" r="5.1"/><circle cx="487.8" cy="866.9" r="5.1"/><circle cx="501.6" cy="856.6" r="5.1"/><circle cx="508.1" cy="828.3" r="5.1"/><circle cx="498.2" cy="872.2" r="5.1"/><circle cx="529.6" cy="746.7" r="5.1"/><circle cx="503.9" cy="831.3" r="5.1"/><circle cx="513.8" cy="819.3" r="5.1"/><circle cx="495.7" cy="844.5" r="5.1"/><circle cx="499.1" cy="825.5" r="5.1"/><circle cx="503.9" cy="815.2" r="5.1"/><circle cx="516.7" cy="804" r="5.1"/><circle cx="494.2" cy="831" r="5.1"/><circle cx="511.8" cy="800.8" r="5.1"/><circle cx="511" cy="841.5" r="5.1"/><circle cx="516.3" cy="804.6" r="5.1"/><circle cx="477.3" cy="876.2" r="5.1"/><circle cx="467.7" cy="871.5" r="5.1"/><circle cx="511.3" cy="839.5" r="5.1"/><circle cx="509.1" cy="859.9" r="5.1"/><circle cx="506.1" cy="833.8" r="5.1"/><circle cx="508.5" cy="815.1" r="5.1"/><circle cx="511.7" cy="809.2" r="5.1"/><circle cx="497.8" cy="834.2" r="5.1"/><circle cx="507.7" cy="816.9" r="5.1"/><circle cx="485.4" cy="869.2" r="5.1"/><circle cx="516" cy="822.6" r="5.1"/><circle cx="515.2" cy="807.2" r="5.1"/><circle cx="530.3" cy="777.1" r="5.1"/><circle cx="473.5" cy="864.4" r="5.1"/><circle cx="497.1" cy="870.8" r="5.1"/><circle cx="468.8" cy="880.5" r="5.1"/><circle cx="522.2" cy="774.2" r="5.1"/><circle cx="493.7" cy="832" r="5.1"/><circle cx="491.3" cy="846.9" r="5.1"/><circle cx="461.7" cy="880.9" r="5.1"/><circle cx="501.3" cy="818.7" r="5.1"/><circle cx="486.6" cy="852.3" r="5.1"/><circle cx="493.7" cy="866.2" r="5.1"/><circle cx="519.3" cy="781.7" r="5.1"/><circle cx="513.2" cy="794.2" r="5.1"/><circle cx="466.8" cy="881.5" r="5.1"/><circle cx="530.1" cy="768.5" r="5.1"/><circle cx="517" cy="765.6" r="5.1"/><circle cx="504" cy="834.6" r="5.1"/><circle cx="470.7" cy="862.5" r="5.1"/><circle cx="498.7" cy="859.2" r="5.1"/><circle cx="503.1" cy="808.7" r="5.1"/><circle cx="525.3" cy="764.9" r="5.1"/><circle cx="505.8" cy="808.3" r="5.1"/><circle cx="523.2" cy="755.9" r="5.1"/><circle cx="483.1" cy="876.3" r="5.1"/><circle cx="522.5" cy="791.1" r="5.1"/><circle cx="502.3" cy="866.6" r="5.1"/><circle cx="492.6" cy="863.2" r="5.1"/><circle cx="493.5" cy="876.3" r="5.1"/><circle cx="518.7" cy="790.1" r="5.1"/><circle cx="523.5" cy="786.1" r="5.1"/><circle cx="496.3" cy="829.5" r="5.1"/><circle cx="514.1" cy="777.1" r="5.1"/><circle cx="478.8" cy="877.3" r="5.1"/><circle cx="521.7" cy="767.6" r="5.1"/><circle cx="497.8" cy="816.6" r="5.1"/><circle cx="478.6" cy="864.3" r="5.1"/><circle cx="513.7" cy="780.4" r="5.1"/><circle cx="520.9" cy="751.8" r="5.1"/><circle cx="513.3" cy="774.4" r="5.1"/><circle cx="504.7" cy="794.9" r="5.1"/><circle cx="511.5" cy="823.3" r="5.1"/><circle cx="526.3" cy="774.8" r="5.1"/><circle cx="500.6" cy="813.1" r="5.1"/><circle cx="472.1" cy="875.2" r="5.1"/><circle cx="508.9" cy="824.6" r="5.1"/><circle cx="514.5" cy="793.8" r="5.1"/><circle cx="509.6" cy="811.6" r="5.1"/><circle cx="509.6" cy="784.7" r="5.1"/><circle cx="495.4" cy="833.3" r="5.1"/><circle cx="496.3" cy="859.8" r="5.1"/><circle cx="496.1" cy="840" r="5.1"/><circle cx="529.9" cy="762.3" r="5.1"/><circle cx="501.2" cy="803.9" r="5.1"/><circle cx="499.5" cy="839.4" r="5.1"/><circle cx="506.7" cy="799.6" r="5.1"/><circle cx="520" cy="787.2" r="5.1"/><circle cx="519.7" cy="796.9" r="5.1"/><circle cx="503.8" cy="860.1" r="5.1"/><circle cx="513.6" cy="770.2" r="5.1"/><circle cx="488.7" cy="851.5" r="5.1"/><circle cx="510" cy="818.6" r="5.1"/><circle cx="510.8" cy="791.5" r="5.1"/><circle cx="483.5" cy="846.7" r="5.1"/><circle cx="492.4" cy="871.9" r="5.1"/><circle cx="517.2" cy="752.5" r="5.1"/><circle cx="516" cy="781.6" r="5.1"/><circle cx="526.3" cy="752.1" r="5.1"/><circle cx="521.2" cy="778.5" r="5.1"/><circle cx="490.3" cy="854.7" r="5.1"/><circle cx="475.7" cy="851.9" r="5.1"/><circle cx="479.8" cy="865.2" r="5.1"/><circle cx="524.5" cy="753.6" r="5.1"/><circle cx="515.8" cy="753.8" r="5.1"/><circle cx="505.2" cy="861.4" r="5.1"/><circle cx="498.8" cy="857.4" r="5.1"/><circle cx="513.5" cy="815.8" r="5.1"/><circle cx="520.6" cy="796.8" r="5.1"/><circle cx="509.5" cy="820.5" r="5.1"/><circle cx="496.6" cy="856.7" r="5.1"/><circle cx="508.7" cy="824.5" r="5.1"/><circle cx="514.7" cy="820.8" r="5.1"/><circle cx="514" cy="769.9" r="5.1"/><circle cx="484.1" cy="853.8" r="5.1"/><circle cx="503.9" cy="837.5" r="5.1"/><circle cx="488.1" cy="837.1" r="5.1"/><circle cx="501.4" cy="810" r="5.1"/><circle cx="514.3" cy="801.9" r="5.1"/><circle cx="485.2" cy="850.7" r="5.1"/><circle cx="512.8" cy="833.2" r="5.1"/><circle cx="516.2" cy="808.8" r="5.1"/><circle cx="519.4" cy="772.1" r="5.1"/><circle cx="498.5" cy="863.3" r="5.1"/><circle cx="522.7" cy="776.7" r="5.1"/><circle cx="511.5" cy="826.1" r="5.1"/><circle cx="521.2" cy="767.4" r="5.1"/><circle cx="513.4" cy="783.2" r="5.1"/><circle cx="517.2" cy="781.8" r="5.1"/><circle cx="523.4" cy="766.9" r="5.1"/><circle cx="498.5" cy="810.4" r="5.1"/><circle cx="532.9" cy="747.4" r="5.1"/><circle cx="532.2" cy="762" r="5.1"/><circle cx="499.2" cy="839.3" r="5.1"/><circle cx="505.8" cy="821.8" r="5.1"/><circle cx="530.5" cy="747.4" r="5.1"/><circle cx="549.5" cy="727.1" r="5.1"/><circle cx="536.1" cy="707.8" r="5.1"/><circle cx="553.4" cy="692.2" r="5.1"/><circle cx="554.6" cy="710.2" r="5.1"/><circle cx="524.7" cy="738.7" r="5.1"/><circle cx="547.1" cy="735" r="5.1"/><circle cx="562.6" cy="711.9" r="5.1"/><circle cx="551.9" cy="711.5" r="5.1"/><circle cx="539.1" cy="714.2" r="5.1"/><circle cx="548.1" cy="693.2" r="5.1"/><circle cx="551.3" cy="736.9" r="5.1"/><circle cx="532.8" cy="744.4" r="5.1"/><circle cx="548.7" cy="702" r="5.1"/><circle cx="536.5" cy="696.3" r="5.1"/><circle cx="531.4" cy="717.9" r="5.1"/><circle cx="537.2" cy="693.1" r="5.1"/><circle cx="553.3" cy="731.7" r="5.1"/><circle cx="533.2" cy="739.1" r="5.1"/><circle cx="549.8" cy="709.6" r="5.1"/><circle cx="545.7" cy="716.8" r="5.1"/><circle cx="558" cy="729" r="5.1"/><circle cx="544.9" cy="702.5" r="5.1"/><circle cx="532.8" cy="723.8" r="5.1"/><circle cx="543.9" cy="696.5" r="5.1"/><circle cx="542.7" cy="746.4" r="5.1"/><circle cx="535.4" cy="746.4" r="5.1"/><circle cx="543.8" cy="736.3" r="5.1"/><circle cx="547" cy="726" r="5.1"/><circle cx="537" cy="745.1" r="5.1"/><circle cx="563.9" cy="710.5" r="5.1"/><circle cx="549.4" cy="692.1" r="5.1"/><circle cx="553.9" cy="717.9" r="5.1"/><circle cx="546" cy="714.2" r="5.1"/><circle cx="541.6" cy="722.2" r="5.1"/><circle cx="555.3" cy="698.9" r="5.1"/><circle cx="559.9" cy="723" r="5.1"/><circle cx="549.6" cy="707.8" r="5.1"/><circle cx="550.5" cy="707.9" r="5.1"/><circle cx="535.2" cy="706.5" r="5.1"/><circle cx="529.3" cy="721.4" r="5.1"/><circle cx="546.1" cy="716" r="5.1"/><circle cx="542.7" cy="739.6" r="5.1"/><circle cx="557.5" cy="733.4" r="5.1"/><circle cx="553.1" cy="731.5" r="5.1"/><circle cx="566.8" cy="715.1" r="5.1"/><circle cx="530.4" cy="723.9" r="5.1"/><circle cx="529.2" cy="734.4" r="5.1"/><circle cx="552.9" cy="714" r="5.1"/><circle cx="554.3" cy="705.4" r="5.1"/><circle cx="552.7" cy="717.2" r="5.1"/><circle cx="549.1" cy="740" r="5.1"/><circle cx="543.4" cy="739.9" r="5.1"/><circle cx="556.8" cy="712.8" r="5.1"/><circle cx="532.5" cy="737.3" r="5.1"/><circle cx="548.1" cy="732.6" r="5.1"/><circle cx="535" cy="693.4" r="5.1"/><circle cx="529.8" cy="723.2" r="5.1"/><circle cx="525.7" cy="743.2" r="5.1"/><circle cx="557.7" cy="704.2" r="5.1"/><circle cx="525.4" cy="724.5" r="5.1"/><circle cx="537" cy="698.8" r="5.1"/><circle cx="552.8" cy="723.3" r="5.1"/><circle cx="563.6" cy="714.6" r="5.1"/><circle cx="557.9" cy="722.7" r="5.1"/><circle cx="527.9" cy="744.5" r="5.1"/><circle cx="556.9" cy="701.6" r="5.1"/><circle cx="526.5" cy="735.8" r="5.1"/><circle cx="533.4" cy="736.9" r="5.1"/><circle cx="560.6" cy="719.4" r="5.1"/><circle cx="553" cy="715.5" r="5.1"/><circle cx="537.8" cy="695.8" r="5.1"/><circle cx="519.5" cy="741.3" r="5.1"/><circle cx="545.7" cy="702.8" r="5.1"/><circle cx="538.8" cy="724.5" r="5.1"/><circle cx="540.9" cy="690.3" r="5.1"/><circle cx="557.1" cy="691.4" r="5.1"/><circle cx="549.2" cy="693.3" r="5.1"/><circle cx="549" cy="709" r="5.1"/><circle cx="549.8" cy="708.4" r="5.1"/><circle cx="518.2" cy="745.5" r="5.1"/><circle cx="560.1" cy="723.7" r="5.1"/><circle cx="543.6" cy="734.5" r="5.1"/><circle cx="560.9" cy="713.6" r="5.1"/><circle cx="541.2" cy="740.1" r="5.1"/><circle cx="558.7" cy="710.8" r="5.1"/><circle cx="540.2" cy="721.2" r="5.1"/><circle cx="527.7" cy="723.1" r="5.1"/><circle cx="568.8" cy="712.4" r="5.1"/><circle cx="536.7" cy="719.7" r="5.1"/><circle cx="536" cy="706.9" r="5.1"/><circle cx="543.8" cy="690.6" r="5.1"/><circle cx="539.7" cy="718" r="5.1"/><circle cx="540.8" cy="702.7" r="5.1"/><circle cx="551.7" cy="711.1" r="5.1"/><circle cx="546.3" cy="743.9" r="5.1"/><circle cx="541.4" cy="672" r="5.1"/><circle cx="544" cy="672.2" r="5.1"/><circle cx="552.5" cy="680.2" r="5.1"/><circle cx="553.2" cy="634.7" r="5.1"/><circle cx="543.2" cy="652.5" r="5.1"/><circle cx="550.7" cy="643.8" r="5.1"/><circle cx="545.6" cy="648.1" r="5.1"/><circle cx="548.3" cy="673" r="5.1"/><circle cx="552.7" cy="646.5" r="5.1"/><circle cx="550.7" cy="672.8" r="5.1"/><circle cx="538.4" cy="683.8" r="5.1"/><circle cx="552" cy="645.9" r="5.1"/><circle cx="541.4" cy="674.7" r="5.1"/><circle cx="548.5" cy="656.5" r="5.1"/><circle cx="544.8" cy="662.1" r="5.1"/><circle cx="548.7" cy="633.5" r="5.1"/><circle cx="545.9" cy="674" r="5.1"/><circle cx="545.5" cy="672.6" r="5.1"/><circle cx="553.1" cy="625.6" r="5.1"/><circle cx="548" cy="687.6" r="5.1"/><circle cx="531.7" cy="799.8" r="5.1"/><circle cx="581.8" cy="757.3" r="5.1"/><circle cx="566.5" cy="755" r="5.1"/><circle cx="552.8" cy="778.7" r="5.1"/><circle cx="540.1" cy="790.8" r="5.1"/><circle cx="537.7" cy="803.1" r="5.1"/><circle cx="532.6" cy="807.1" r="5.1"/><circle cx="533.8" cy="808.9" r="5.1"/><circle cx="582.8" cy="762.4" r="5.1"/><circle cx="568.2" cy="756.4" r="5.1"/><circle cx="540.8" cy="790.4" r="5.1"/><circle cx="528.1" cy="849.4" r="5.1"/><circle cx="551.4" cy="754.7" r="5.1"/><circle cx="574.6" cy="753.7" r="5.1"/><circle cx="561.4" cy="758.4" r="5.1"/><circle cx="580.8" cy="756.9" r="5.1"/><circle cx="524.5" cy="835.2" r="5.1"/><circle cx="539.4" cy="809.4" r="5.1"/><circle cx="550.2" cy="775.4" r="5.1"/><circle cx="531.5" cy="813.7" r="5.1"/><circle cx="532.2" cy="831.4" r="5.1"/><circle cx="566" cy="754.1" r="5.1"/><circle cx="423.2" cy="851" r="5.1"/><circle cx="419.8" cy="796.4" r="5.1"/><circle cx="397.2" cy="823" r="5.1"/><circle cx="381.8" cy="777.1" r="5.1"/><circle cx="396.6" cy="768.8" r="5.1"/><circle cx="382.4" cy="782.1" r="5.1"/><circle cx="422.5" cy="815.6" r="5.1"/><circle cx="432.8" cy="851.6" r="5.1"/><circle cx="409.7" cy="846.3" r="5.1"/><circle cx="386.5" cy="805.9" r="5.1"/><circle cx="408.9" cy="829.6" r="5.1"/><circle cx="392.7" cy="817" r="5.1"/><circle cx="435" cy="853.2" r="5.1"/><circle cx="438.1" cy="851" r="5.1"/><circle cx="409.4" cy="867" r="5.1"/><circle cx="365.4" cy="756.2" r="5.1"/><circle cx="434.3" cy="856.3" r="5.1"/><circle cx="392.4" cy="754.2" r="5.1"/><circle cx="401.9" cy="753.2" r="5.1"/><circle cx="435.5" cy="833.9" r="5.1"/><circle cx="395.2" cy="744.7" r="5.1"/><circle cx="411.6" cy="830.3" r="5.1"/><circle cx="375.6" cy="772.8" r="5.1"/><circle cx="376.1" cy="743.5" r="5.1"/><circle cx="420.2" cy="852.6" r="5.1"/><circle cx="373.8" cy="759.6" r="5.1"/><circle cx="422.4" cy="829.8" r="5.1"/><circle cx="395.7" cy="807.1" r="5.1"/><circle cx="395.5" cy="807" r="5.1"/><circle cx="407" cy="771" r="5.1"/><circle cx="397.9" cy="835.7" r="5.1"/><circle cx="373.9" cy="776.9" r="5.1"/><circle cx="405.6" cy="808.3" r="5.1"/><circle cx="405.4" cy="790.1" r="5.1"/><circle cx="412.2" cy="826.3" r="5.1"/><circle cx="429.2" cy="830.8" r="5.1"/><circle cx="404" cy="833.7" r="5.1"/><circle cx="394.4" cy="797.5" r="5.1"/><circle cx="382.1" cy="793.5" r="5.1"/><circle cx="434.1" cy="867.3" r="5.1"/><circle cx="429.4" cy="858.5" r="5.1"/><circle cx="384.3" cy="792.3" r="5.1"/><circle cx="397.5" cy="756.7" r="5.1"/><circle cx="432.3" cy="856.2" r="5.1"/><circle cx="397.6" cy="785.7" r="5.1"/><circle cx="373.7" cy="784.2" r="5.1"/><circle cx="414.5" cy="837.6" r="5.1"/><circle cx="394.8" cy="819.2" r="5.1"/><circle cx="403.2" cy="823.3" r="5.1"/><circle cx="413.7" cy="833.1" r="5.1"/><circle cx="399.7" cy="821.1" r="5.1"/><circle cx="395.9" cy="823.2" r="5.1"/><circle cx="426.8" cy="820.9" r="5.1"/><circle cx="402.7" cy="804.2" r="5.1"/><circle cx="385.1" cy="804.5" r="5.1"/><circle cx="425.5" cy="858.6" r="5.1"/><circle cx="391.6" cy="811.1" r="5.1"/><circle cx="387.4" cy="764.6" r="5.1"/><circle cx="427.7" cy="824.9" r="5.1"/><circle cx="414.4" cy="851.5" r="5.1"/><circle cx="400" cy="847.7" r="5.1"/><circle cx="371.6" cy="761.6" r="5.1"/><circle cx="398" cy="790" r="5.1"/><circle cx="395.9" cy="801.2" r="5.1"/><circle cx="427.6" cy="867.7" r="5.1"/><circle cx="413.9" cy="804.8" r="5.1"/><circle cx="382.3" cy="761.3" r="5.1"/><circle cx="397.4" cy="809.8" r="5.1"/><circle cx="375.2" cy="787.6" r="5.1"/><circle cx="372.7" cy="768.7" r="5.1"/><circle cx="380.2" cy="765.6" r="5.1"/><circle cx="409.7" cy="785.4" r="5.1"/><circle cx="399.5" cy="753.4" r="5.1"/><circle cx="402.6" cy="768.6" r="5.1"/><circle cx="386.9" cy="821.5" r="5.1"/><circle cx="516.5" cy="819.1" r="5.1"/><circle cx="518.3" cy="802.7" r="5.1"/><circle cx="490.9" cy="853.6" r="5.1"/><circle cx="492.7" cy="833.7" r="5.1"/><circle cx="484.7" cy="865.6" r="5.1"/><circle cx="483.6" cy="841.6" r="5.1"/><circle cx="499.9" cy="849.1" r="5.1"/><circle cx="516.8" cy="825" r="5.1"/><circle cx="525.5" cy="771.5" r="5.1"/><circle cx="505.4" cy="821.3" r="5.1"/><circle cx="506" cy="822.6" r="5.1"/><circle cx="519.4" cy="824.5" r="5.1"/><circle cx="497.5" cy="842.2" r="5.1"/><circle cx="527.8" cy="773.2" r="5.1"/><circle cx="479.5" cy="850.5" r="5.1"/><circle cx="526.6" cy="794.3" r="5.1"/><circle cx="530.9" cy="779.9" r="5.1"/><circle cx="512.4" cy="831.7" r="5.1"/><circle cx="480.1" cy="845.4" r="5.1"/><circle cx="504.8" cy="843.7" r="5.1"/><circle cx="509.1" cy="867.7" r="5.1"/><circle cx="520.6" cy="785.4" r="5.1"/><circle cx="519.8" cy="769.6" r="5.1"/><circle cx="506" cy="798.9" r="5.1"/><circle cx="495.5" cy="857.4" r="5.1"/><circle cx="502.8" cy="816.5" r="5.1"/><circle cx="512.8" cy="857.9" r="5.1"/><circle cx="499.3" cy="798.5" r="5.1"/><circle cx="505" cy="828.9" r="5.1"/><circle cx="502.9" cy="824.1" r="5.1"/><circle cx="518.1" cy="852.7" r="5.1"/><circle cx="498.6" cy="830.9" r="5.1"/><circle cx="508.7" cy="828.9" r="5.1"/><circle cx="522.4" cy="805.9" r="5.1"/><circle cx="523.6" cy="802.4" r="5.1"/><circle cx="521.7" cy="834.7" r="5.1"/><circle cx="493.2" cy="819.7" r="5.1"/><circle cx="493.2" cy="818.4" r="5.1"/><circle cx="499.9" cy="857.2" r="5.1"/><circle cx="520.1" cy="789.7" r="5.1"/><circle cx="505.8" cy="852.8" r="5.1"/><circle cx="489.1" cy="842.5" r="5.1"/><circle cx="517" cy="855.5" r="5.1"/><circle cx="503.4" cy="792.7" r="5.1"/><circle cx="493.3" cy="851.8" r="5.1"/><circle cx="519.5" cy="840.8" r="5.1"/><circle cx="481.8" cy="843.2" r="5.1"/><circle cx="515.8" cy="844" r="5.1"/><circle cx="516" cy="802.6" r="5.1"/><circle cx="500.7" cy="805.6" r="5.1"/><circle cx="510.6" cy="861" r="5.1"/><circle cx="535.1" cy="786.4" r="5.1"/><circle cx="506.2" cy="813.6" r="5.1"/><circle cx="504.9" cy="839.1" r="5.1"/><circle cx="530.4" cy="779.3" r="5.1"/><circle cx="495.7" cy="818" r="5.1"/><circle cx="517.7" cy="854.7" r="5.1"/><circle cx="491.6" cy="867.8" r="5.1"/><circle cx="521.8" cy="802.2" r="5.1"/><circle cx="492.8" cy="825" r="5.1"/><circle cx="511.4" cy="823.8" r="5.1"/><circle cx="492.7" cy="829.2" r="5.1"/><circle cx="525.5" cy="800.4" r="5.1"/><circle cx="500.1" cy="795.1" r="5.1"/><circle cx="498.1" cy="835.3" r="5.1"/><circle cx="469.3" cy="863.6" r="5.1"/><circle cx="503.4" cy="807.2" r="5.1"/><circle cx="512.7" cy="848.2" r="5.1"/><circle cx="515.2" cy="802.9" r="5.1"/><circle cx="532.2" cy="779.7" r="5.1"/><circle cx="485.8" cy="835.1" r="5.1"/><circle cx="512.4" cy="826.8" r="5.1"/><circle cx="516" cy="783.8" r="5.1"/><circle cx="499.2" cy="811.8" r="5.1"/><circle cx="513.1" cy="788.5" r="5.1"/><circle cx="458" cy="882" r="5.1"/><circle cx="456" cy="884" r="5.1"/><circle cx="460" cy="884" r="5.1"/><circle cx="452" cy="880" r="5.1"/><circle cx="464" cy="880" r="5.1"/><circle cx="458" cy="886" r="5.1"/><circle cx="326.3" cy="712.9" r="5.1"/><circle cx="340.4" cy="726" r="5.1"/><circle cx="336" cy="727" r="5.1"/><circle cx="344.4" cy="749.2" r="5.1"/><circle cx="356.5" cy="749.2" r="5.1"/><circle cx="334.4" cy="765.3" r="5.1"/><circle cx="342" cy="764.5" r="5.1"/><circle cx="350" cy="764" r="5.1"/><circle cx="358" cy="763.5" r="5.1"/><circle cx="336.4" cy="783.5" r="5.1"/><circle cx="342" cy="781.5" r="5.1"/><circle cx="362.6" cy="783.5" r="5.1"/><circle cx="328.3" cy="802.6" r="5.1"/><circle cx="342.8" cy="805.2" r="5.1"/><circle cx="344" cy="834.9" r="5.1"/><circle cx="374.7" cy="794.6" r="5.1"/><circle cx="386.8" cy="821.8" r="5.1"/><circle cx="388.8" cy="846" r="5.1"/><circle cx="404.9" cy="860.1" r="5.1"/><circle cx="411" cy="866.1" r="5.1"/><circle cx="357.5" cy="625.2" r="5.1"/><circle cx="369.6" cy="639.3" r="5.1"/><circle cx="372.7" cy="648.4" r="5.1"/><circle cx="360.6" cy="657.5" r="5.1"/><circle cx="346.5" cy="700.8" r="5.1"/><circle cx="346.5" cy="705" r="5.1"/><circle cx="358.5" cy="721" r="5.1"/><circle cx="362.6" cy="687.7" r="5.1"/><circle cx="370.6" cy="683.7" r="5.1"/><circle cx="378.7" cy="690.7" r="5.1"/><circle cx="361.6" cy="656.6" r="5.1"/><circle cx="352" cy="697" r="5.1"/><circle cx="356" cy="712" r="5.1"/><circle cx="362" cy="735" r="5.1"/><circle cx="554" cy="812.7" r="5.1"/><circle cx="565.2" cy="822.8" r="5.1"/><circle cx="589.4" cy="821.2" r="5.1"/><circle cx="546" cy="831.9" r="5.1"/><circle cx="572.3" cy="789.5" r="5.1"/><circle cx="598.5" cy="771.4" r="5.1"/><circle cx="605.5" cy="767.3" r="5.1"/><circle cx="650.9" cy="701.8" r="5.1"/><circle cx="622.7" cy="700.8" r="5.1"/><circle cx="630.7" cy="699.8" r="5.1"/><circle cx="534" cy="846" r="5.1"/><circle cx="526" cy="855" r="5.1"/><circle cx="518" cy="866" r="5.1"/><circle cx="540" cy="860" r="5.1"/><circle cx="583" cy="757" r="5.1"/><circle cx="580" cy="766" r="5.1"/><circle cx="536" cy="684" r="5.1"/><circle cx="548" cy="687" r="5.1"/><circle cx="558" cy="688" r="5.1"/>
</g>
<g fill="#8c8c8c" fill-opacity="0.8">
<circle cx="299.5" cy="750.8" r="5.2"/>
</g>
<g fill="#d9363a" fill-opacity="0.55">
<circle cx="255.2" cy="490.4" r="5.2"/><circle cx="198.3" cy="543.5" r="5.2"/><circle cx="158.5" cy="569.4" r="5.2"/><circle cx="322.3" cy="588.9" r="5.2"/><circle cx="319.8" cy="609.6" r="5.2"/><circle cx="215" cy="633.6" r="5.2"/><circle cx="348.8" cy="637.8" r="5.2"/><circle cx="332.8" cy="648.9" r="5.2"/><circle cx="337.6" cy="648.9" r="5.2"/><circle cx="332.5" cy="655.6" r="5.2"/><circle cx="352" cy="654.6" r="5.2"/><circle cx="353" cy="674.2" r="5.2"/><circle cx="353" cy="674.2" r="5.2"/><circle cx="272.5" cy="690.1" r="5.2"/>
</g>
<path d="M488.6 832.4L509.2 853L488.6 873.6L468 853Z" fill="none" stroke="#979797" stroke-width="2.2"/>
<path d="M547.1 760.9L567.7 781.5L547.1 802.1L526.5 781.5Z" fill="none" stroke="#979797" stroke-width="2.2"/>
<path d="M583.3 737.1L603.9 757.7L583.3 778.3L562.7 757.7Z" fill="none" stroke="#979797" stroke-width="2.2"/>
<path d="M628.7 680.8L649.3 701.4L628.7 722L608.1 701.4Z" fill="none" stroke="#979797" stroke-width="2.2"/>
<path d="M755.9 296.1L774.4 314.6L755.9 333.1L737.4 314.6Z" fill="#3fb98c" fill-opacity="0.35" stroke="#2fae82" stroke-width="2" stroke-opacity="0.55"/>
<path d="M778.2 313.6L796.7 332.1L778.2 350.6L759.7 332.1Z" fill="#3fb98c" fill-opacity="0.35" stroke="#2fae82" stroke-width="2" stroke-opacity="0.55"/>
<path d="M651.9 365.5L670.4 384L651.9 402.5L633.4 384Z" fill="#3fb98c" fill-opacity="0.35" stroke="#2fae82" stroke-width="2" stroke-opacity="0.55"/>
<path d="M693.7 381.9L712.2 400.4L693.7 418.9L675.2 400.4Z" fill="#3fb98c" fill-opacity="0.35" stroke="#2fae82" stroke-width="2" stroke-opacity="0.55"/>
<path d="M799 570.5L817.5 589L799 607.5L780.5 589Z" fill="#3fb98c" fill-opacity="0.35" stroke="#2fae82" stroke-width="2" stroke-opacity="0.55"/>
<path d="M867.3 99.4L887.5 119.6L867.3 139.8L847.1 119.6Z" fill="#c57aa6" fill-opacity="0.72"/>
<g fill="#0a8a0a" fill-opacity="0.58">
<circle cx="614.9" cy="452.3" r="5.2"/><circle cx="625.4" cy="476.6" r="5.2"/><circle cx="612.5" cy="491.2" r="5.2"/><circle cx="617" cy="494.4" r="5.2"/><circle cx="623.5" cy="493.6" r="5.2"/><circle cx="617" cy="503.3" r="5.2"/><circle cx="625.1" cy="500.9" r="5.2"/><circle cx="643.7" cy="490.3" r="5.2"/><circle cx="650.7" cy="493.6" r="5.2"/><circle cx="692.7" cy="493.6" r="5.2"/><circle cx="600.9" cy="525.9" r="5.2"/><circle cx="600.4" cy="544.2" r="5.2"/><circle cx="607.3" cy="543.7" r="5.2"/><circle cx="641.6" cy="544.2" r="5.2"/><circle cx="575.5" cy="556.6" r="5.2"/><circle cx="585" cy="555" r="5.2"/><circle cx="594.4" cy="555.5" r="5.2"/><circle cx="617" cy="560.4" r="5.2"/><circle cx="570.9" cy="570.4" r="5.2"/><circle cx="575.8" cy="573.6" r="5.2"/><circle cx="605.4" cy="570.4" r="5.2"/><circle cx="607.3" cy="575.2" r="5.2"/><circle cx="641" cy="569.6" r="5.2"/><circle cx="695" cy="574.9" r="5.2"/><circle cx="616.2" cy="584.6" r="5.2"/><circle cx="560.4" cy="591.4" r="5.2"/><circle cx="562.9" cy="588.2" r="5.2"/><circle cx="573.4" cy="588.2" r="5.2"/><circle cx="578.2" cy="589.5" r="5.2"/><circle cx="591.2" cy="589.5" r="5.2"/><circle cx="593.6" cy="593.8" r="5.2"/><circle cx="635.6" cy="589.5" r="5.2"/><circle cx="647.3" cy="588.2" r="5.2"/><circle cx="768.5" cy="595.5" r="5.2"/><circle cx="581.1" cy="612.4" r="5.2"/><circle cx="622.7" cy="612.8" r="5.2"/><circle cx="628.3" cy="613.2" r="5.2"/><circle cx="652.6" cy="614.4" r="5.2"/><circle cx="685.3" cy="612.8" r="5.2"/><circle cx="696.3" cy="610.5" r="5.2"/><circle cx="563.7" cy="620.5" r="5.2"/><circle cx="573.4" cy="620.5" r="5.2"/><circle cx="596.8" cy="616.5" r="5.2"/><circle cx="602.5" cy="618.9" r="5.2"/><circle cx="592.8" cy="624.6" r="5.2"/><circle cx="563.7" cy="629.4" r="5.2"/><circle cx="587.1" cy="629.4" r="5.2"/><circle cx="607.3" cy="629.4" r="5.2"/><circle cx="574.2" cy="633.5" r="5.2"/><circle cx="570.1" cy="639.1" r="5.2"/><circle cx="572.6" cy="643.2" r="5.2"/><circle cx="591.5" cy="655" r="5.2"/><circle cx="628.7" cy="652.9" r="5.2"/><circle cx="568.5" cy="659.3" r="5.2"/><circle cx="570.1" cy="662.6" r="5.2"/><circle cx="566.1" cy="667.4" r="5.2"/><circle cx="570.2" cy="697.8" r="5.2"/><circle cx="579.3" cy="696.8" r="5.2"/><circle cx="584.4" cy="689.3" r="5.2"/><circle cx="641.8" cy="687.1" r="5.2"/><circle cx="788.4" cy="119.9" r="5.2"/><circle cx="949.7" cy="210" r="5.2"/><circle cx="697.8" cy="314.6" r="5.2"/><circle cx="713.1" cy="314.6" r="5.2"/><circle cx="726.7" cy="368.1" r="5.2"/><circle cx="660.3" cy="391.3" r="5.2"/><circle cx="658" cy="400.4" r="5.2"/><circle cx="755.9" cy="314.6" r="5.2"/><circle cx="778.2" cy="332.1" r="5.2"/><circle cx="651.9" cy="384" r="5.2"/><circle cx="693.7" cy="400.4" r="5.2"/><circle cx="799" cy="589" r="5.2"/><circle cx="570.9" cy="570.4" r="5.2"/><circle cx="563.7" cy="629.4" r="5.2"/><circle cx="587.1" cy="629.4" r="5.2"/><circle cx="570.1" cy="639.1" r="5.2"/><circle cx="572.6" cy="643.2" r="5.2"/><circle cx="568.5" cy="659.3" r="5.2"/><circle cx="570.1" cy="662.6" r="5.2"/><circle cx="605.4" cy="570.4" r="5.2"/><circle cx="612.5" cy="491.2" r="5.2"/><circle cx="617" cy="494.4" r="5.2"/><circle cx="562" cy="589.5" r="5.2"/><circle cx="574" cy="589" r="5.2"/><circle cx="592" cy="591" r="5.2"/><circle cx="596.8" cy="616.5" r="5.2"/><circle cx="579.3" cy="696.8" r="5.2"/>
</g>
<circle cx="867.3" cy="119.6" r="5.2" fill="#4f9d9a" fill-opacity="0.9"/>
<text x="655.5" y="93.2" fill="#a04a7e" font-weight="bold"><tspan font-style="italic">Zm</tspan>CYP81A9-GFP</text>
<text x="770" y="301.4" fill="#0f9a6e">CYP98A31</text>
<text x="800" y="346.9" fill="#0f9a6e">CYP98A33</text>
<text x="496" y="358.3" fill="#0f9a6e">CYP92A361</text>
<text x="715.5" y="414" fill="#0f9a6e">CYP81B2</text>
<text x="820" y="583.5" fill="#0f9a6e">CYP72D8</text>
<text x="78.5" y="45.6" text-anchor="end">6</text>
<text x="78.5" y="187.4" text-anchor="end">5</text>
<text x="78.5" y="329.1" text-anchor="end">4</text>
<text x="78.5" y="470.9" text-anchor="end">3</text>
<text x="78.5" y="612.5" text-anchor="end">2</text>
<text x="78.5" y="754.1" text-anchor="end">1</text>
<text x="78.5" y="895.7" text-anchor="end">0</text>
<text x="166.9" y="928.6" text-anchor="middle">−2</text>
<text x="458.3" y="928.6" text-anchor="middle">0</text>
<text x="749.6" y="928.6" text-anchor="middle">2</text>
<text x="507" y="969" text-anchor="middle">log<tspan font-weight="bold" font-size="27" dy="-1">₂</tspan><tspan dy="1">FC (DB088 vs control)</tspan></text>
<text transform="translate(42.8 456.6) rotate(-90)" text-anchor="middle" fill="#262626">-log<tspan font-weight="bold" font-size="27" dy="-1">₁₀</tspan><tspan dy="1">FDR</tspan></text>
<text x="2.3" y="30.3" font-size="48.5" fill="#333" font-weight="bold">a</text>
<line x1="1156.5" y1="32.4" x2="1156.5" y2="882.5" stroke="#b4b4b4" stroke-width="2.5"/>
<line x1="1737.6" y1="32.4" x2="1737.6" y2="882.5" stroke="#bdbdbd" stroke-width="4.3"/>
<line x1="1447.4" y1="32.4" x2="1447.4" y2="882.5" stroke="#3a3a3a" stroke-width="4.3"/>
<line x1="1055.5" y1="174.4" x2="1980" y2="174.4" stroke="#b8b8b8" stroke-width="2.6"/>
<line x1="1055.5" y1="316.1" x2="1980" y2="316.1" stroke="#b8b8b8" stroke-width="2.6"/>
<line x1="1055.5" y1="457.9" x2="1980" y2="457.9" stroke="#b8b8b8" stroke-width="2.6"/>
<line x1="1055.5" y1="599.5" x2="1980" y2="599.5" stroke="#b8b8b8" stroke-width="2.6"/>
<line x1="1055.5" y1="741.1" x2="1980" y2="741.1" stroke="#b8b8b8" stroke-width="2.6"/>
<line x1="1055.5" y1="32.4" x2="1085.2" y2="32.4" stroke="#b0b0b0" stroke-width="2.2"/>
<line x1="1055.5" y1="882.5" x2="1085.2" y2="882.5" stroke="#b0b0b0" stroke-width="2.2"/>
<rect x="1085.2" y="32.4" width="894.8" height="850.1" fill="none" stroke="#9b9b9b" stroke-width="2.2"/>
<path d="M1371.5 803.4L1376 818.5L1383.5 833.7L1390 848.8L1399 863.9L1410 876L1431 882L1442 882L1437 876L1428 863.9L1419 848.8L1411.5 833.7L1404 818.5L1396 803.4Z" fill="#cdcdcd" stroke="#cdcdcd" stroke-width="3" stroke-linejoin="round"/>
<path d="M1497 803.4L1491 818.5L1482 833.7L1474.5 848.8L1467 863.9L1456 876L1453 882L1463 882L1477 876L1490 863.9L1497 848.8L1512 833.7L1519 818.5L1521 803.4Z" fill="#cdcdcd" stroke="#cdcdcd" stroke-width="3" stroke-linejoin="round"/>
<g fill="#c2c2c2" fill-opacity="0.5">
<circle cx="1409.8" cy="829.3" r="4.3"/><circle cx="1399" cy="830.7" r="4.3"/><circle cx="1385.6" cy="800.1" r="4.3"/><circle cx="1405.1" cy="861.5" r="4.3"/><circle cx="1379.3" cy="787.3" r="4.3"/><circle cx="1385.4" cy="780" r="4.3"/><circle cx="1392.4" cy="848.8" r="4.3"/><circle cx="1363.4" cy="774.7" r="4.3"/><circle cx="1368.1" cy="800.5" r="4.3"/><circle cx="1407.5" cy="830.2" r="4.3"/><circle cx="1398.5" cy="835.8" r="4.3"/><circle cx="1397.2" cy="849.6" r="4.3"/><circle cx="1442.4" cy="882.2" r="4.3"/><circle cx="1397.9" cy="853.7" r="4.3"/><circle cx="1396" cy="812" r="4.3"/><circle cx="1388.8" cy="823.9" r="4.3"/><circle cx="1410.7" cy="877.1" r="4.3"/><circle cx="1382.9" cy="803.6" r="4.3"/><circle cx="1419.8" cy="879.2" r="4.3"/><circle cx="1395.4" cy="846.5" r="4.3"/><circle cx="1386.1" cy="786.6" r="4.3"/><circle cx="1401.2" cy="858.2" r="4.3"/><circle cx="1382.2" cy="788.4" r="4.3"/><circle cx="1379.7" cy="799.2" r="4.3"/><circle cx="1371.4" cy="801.2" r="4.3"/><circle cx="1401.2" cy="847.6" r="4.3"/><circle cx="1398.1" cy="803.3" r="4.3"/><circle cx="1426.2" cy="862.5" r="4.3"/><circle cx="1394.6" cy="803.3" r="4.3"/><circle cx="1421.1" cy="847.6" r="4.3"/><circle cx="1392.3" cy="803.7" r="4.3"/><circle cx="1374.7" cy="816.2" r="4.3"/><circle cx="1368" cy="787.2" r="4.3"/><circle cx="1400.4" cy="843.6" r="4.3"/><circle cx="1427.8" cy="876.9" r="4.3"/><circle cx="1404.9" cy="868" r="4.3"/><circle cx="1412.1" cy="872.4" r="4.3"/><circle cx="1395.2" cy="800.7" r="4.3"/><circle cx="1394.3" cy="801.7" r="4.3"/><circle cx="1388.5" cy="844" r="4.3"/><circle cx="1367.7" cy="779.1" r="4.3"/><circle cx="1418.5" cy="853.2" r="4.3"/><circle cx="1390.5" cy="843.1" r="4.3"/><circle cx="1398.6" cy="855" r="4.3"/><circle cx="1404.4" cy="840.1" r="4.3"/><circle cx="1377.4" cy="811.4" r="4.3"/><circle cx="1370.7" cy="775.1" r="4.3"/><circle cx="1371" cy="782.4" r="4.3"/><circle cx="1396" cy="840.7" r="4.3"/><circle cx="1424.4" cy="870.7" r="4.3"/><circle cx="1394" cy="852.4" r="4.3"/><circle cx="1383.9" cy="778.2" r="4.3"/><circle cx="1390.5" cy="853.5" r="4.3"/><circle cx="1411.9" cy="847.3" r="4.3"/><circle cx="1374.6" cy="815.6" r="4.3"/><circle cx="1413.6" cy="838.6" r="4.3"/><circle cx="1419.5" cy="856.7" r="4.3"/><circle cx="1427" cy="872.7" r="4.3"/><circle cx="1417" cy="871.5" r="4.3"/><circle cx="1414.5" cy="861.4" r="4.3"/><circle cx="1406" cy="845.9" r="4.3"/><circle cx="1407.3" cy="844.3" r="4.3"/><circle cx="1439.3" cy="881.3" r="4.3"/><circle cx="1394.9" cy="822.9" r="4.3"/><circle cx="1380.5" cy="828" r="4.3"/><circle cx="1413.1" cy="857.3" r="4.3"/><circle cx="1403.4" cy="831.9" r="4.3"/><circle cx="1412" cy="834" r="4.3"/><circle cx="1379.4" cy="808.2" r="4.3"/><circle cx="1394.1" cy="850.9" r="4.3"/><circle cx="1418.1" cy="871.9" r="4.3"/><circle cx="1424.5" cy="870.4" r="4.3"/><circle cx="1392.1" cy="802" r="4.3"/><circle cx="1417.1" cy="872.9" r="4.3"/><circle cx="1388.8" cy="842.1" r="4.3"/><circle cx="1409.4" cy="833.6" r="4.3"/><circle cx="1400" cy="854.5" r="4.3"/><circle cx="1374.2" cy="798.3" r="4.3"/><circle cx="1387.8" cy="803.8" r="4.3"/><circle cx="1408.9" cy="833.4" r="4.3"/><circle cx="1421.5" cy="879.7" r="4.3"/><circle cx="1362.9" cy="778.1" r="4.3"/><circle cx="1400.8" cy="853.8" r="4.3"/><circle cx="1399.2" cy="861.4" r="4.3"/><circle cx="1406.5" cy="829.1" r="4.3"/><circle cx="1370.8" cy="806.4" r="4.3"/><circle cx="1407.9" cy="846.4" r="4.3"/><circle cx="1420.7" cy="848.8" r="4.3"/><circle cx="1405.1" cy="851.3" r="4.3"/><circle cx="1380.3" cy="799" r="4.3"/><circle cx="1399.6" cy="854.1" r="4.3"/><circle cx="1390.6" cy="818.3" r="4.3"/><circle cx="1399.1" cy="845.1" r="4.3"/><circle cx="1397.7" cy="861.8" r="4.3"/><circle cx="1410.1" cy="874.7" r="4.3"/><circle cx="1409.4" cy="829.3" r="4.3"/><circle cx="1404.4" cy="821.4" r="4.3"/><circle cx="1411.3" cy="862.3" r="4.3"/><circle cx="1412.2" cy="848.6" r="4.3"/><circle cx="1421.3" cy="864" r="4.3"/><circle cx="1398.8" cy="804" r="4.3"/><circle cx="1437" cy="878.8" r="4.3"/><circle cx="1401" cy="816.1" r="4.3"/><circle cx="1388" cy="818.4" r="4.3"/><circle cx="1399.6" cy="839.1" r="4.3"/><circle cx="1363.5" cy="777.6" r="4.3"/><circle cx="1406.5" cy="862" r="4.3"/><circle cx="1399.4" cy="861" r="4.3"/><circle cx="1410.2" cy="835.9" r="4.3"/><circle cx="1406.2" cy="852.1" r="4.3"/><circle cx="1414.1" cy="875.8" r="4.3"/><circle cx="1406.7" cy="836.6" r="4.3"/><circle cx="1415.9" cy="847.3" r="4.3"/><circle cx="1396.2" cy="839.8" r="4.3"/><circle cx="1405.5" cy="866.5" r="4.3"/><circle cx="1416.9" cy="867" r="4.3"/><circle cx="1402.2" cy="841.2" r="4.3"/><circle cx="1381.7" cy="834.4" r="4.3"/><circle cx="1424.7" cy="877.8" r="4.3"/><circle cx="1412.4" cy="862.6" r="4.3"/><circle cx="1407.9" cy="852.2" r="4.3"/><circle cx="1407.8" cy="825.3" r="4.3"/><circle cx="1374.4" cy="809.8" r="4.3"/><circle cx="1408.2" cy="827.6" r="4.3"/><circle cx="1385.9" cy="831.5" r="4.3"/><circle cx="1390.1" cy="845.7" r="4.3"/><circle cx="1400.4" cy="860" r="4.3"/><circle cx="1379" cy="805.3" r="4.3"/><circle cx="1376.8" cy="819.2" r="4.3"/><circle cx="1409.1" cy="855.9" r="4.3"/><circle cx="1386.6" cy="807.9" r="4.3"/><circle cx="1391.4" cy="827.4" r="4.3"/><circle cx="1388.6" cy="836.5" r="4.3"/><circle cx="1404.7" cy="846.9" r="4.3"/><circle cx="1428.3" cy="866.8" r="4.3"/><circle cx="1394.4" cy="805.8" r="4.3"/><circle cx="1413.7" cy="871.7" r="4.3"/><circle cx="1438.2" cy="873.5" r="4.3"/><circle cx="1409.9" cy="870.3" r="4.3"/><circle cx="1394.3" cy="855.5" r="4.3"/><circle cx="1424.8" cy="865.3" r="4.3"/><circle cx="1382" cy="792.2" r="4.3"/><circle cx="1375.6" cy="775.5" r="4.3"/><circle cx="1407.6" cy="872.5" r="4.3"/><circle cx="1398" cy="834.5" r="4.3"/><circle cx="1391.2" cy="851.8" r="4.3"/><circle cx="1376.6" cy="789.3" r="4.3"/><circle cx="1386.1" cy="835.3" r="4.3"/><circle cx="1391.7" cy="800" r="4.3"/><circle cx="1425.7" cy="880.8" r="4.3"/><circle cx="1373.3" cy="782.8" r="4.3"/><circle cx="1409.3" cy="858.8" r="4.3"/><circle cx="1401.7" cy="835.3" r="4.3"/><circle cx="1377.1" cy="774.3" r="4.3"/><circle cx="1388.5" cy="799.7" r="4.3"/><circle cx="1381.3" cy="824" r="4.3"/><circle cx="1411.6" cy="835.1" r="4.3"/><circle cx="1425.5" cy="862.7" r="4.3"/><circle cx="1406.9" cy="846.3" r="4.3"/><circle cx="1408.4" cy="834.6" r="4.3"/><circle cx="1393.9" cy="809.1" r="4.3"/><circle cx="1408.1" cy="860.4" r="4.3"/><circle cx="1426.1" cy="871.1" r="4.3"/><circle cx="1407.5" cy="859.5" r="4.3"/><circle cx="1402.6" cy="855" r="4.3"/><circle cx="1391" cy="830.4" r="4.3"/><circle cx="1394.4" cy="847.4" r="4.3"/><circle cx="1417.8" cy="875.6" r="4.3"/><circle cx="1405.9" cy="849.2" r="4.3"/><circle cx="1397.1" cy="823" r="4.3"/><circle cx="1424.2" cy="853.4" r="4.3"/><circle cx="1378.1" cy="776.6" r="4.3"/><circle cx="1371.5" cy="808.4" r="4.3"/><circle cx="1370.5" cy="801.5" r="4.3"/><circle cx="1387.3" cy="808.2" r="4.3"/><circle cx="1400.5" cy="835" r="4.3"/><circle cx="1441.3" cy="881.6" r="4.3"/><circle cx="1380.8" cy="784.9" r="4.3"/><circle cx="1365.8" cy="780.4" r="4.3"/><circle cx="1396" cy="831" r="4.3"/><circle cx="1418" cy="844.3" r="4.3"/><circle cx="1397.1" cy="826" r="4.3"/><circle cx="1396.2" cy="820.4" r="4.3"/><circle cx="1407.8" cy="839.8" r="4.3"/><circle cx="1379.3" cy="812.9" r="4.3"/><circle cx="1380.3" cy="779.6" r="4.3"/><circle cx="1400.7" cy="823" r="4.3"/><circle cx="1385" cy="780.9" r="4.3"/><circle cx="1372.6" cy="784.6" r="4.3"/><circle cx="1387.8" cy="831.8" r="4.3"/><circle cx="1406.4" cy="836.4" r="4.3"/><circle cx="1406.9" cy="830.9" r="4.3"/><circle cx="1406.6" cy="843.9" r="4.3"/><circle cx="1380.2" cy="829.6" r="4.3"/><circle cx="1396.8" cy="836.5" r="4.3"/><circle cx="1396.9" cy="850.1" r="4.3"/><circle cx="1411.1" cy="842.2" r="4.3"/><circle cx="1414.8" cy="837.4" r="4.3"/><circle cx="1395.2" cy="856" r="4.3"/><circle cx="1423.6" cy="871" r="4.3"/><circle cx="1396.8" cy="819.5" r="4.3"/><circle cx="1405.2" cy="840.4" r="4.3"/><circle cx="1401" cy="857.8" r="4.3"/><circle cx="1440" cy="879.4" r="4.3"/><circle cx="1368.5" cy="779.1" r="4.3"/><circle cx="1380.4" cy="826.6" r="4.3"/><circle cx="1385.2" cy="837.9" r="4.3"/><circle cx="1410.4" cy="851" r="4.3"/><circle cx="1381.3" cy="820.9" r="4.3"/><circle cx="1401.5" cy="818.3" r="4.3"/><circle cx="1382" cy="784.7" r="4.3"/><circle cx="1393.2" cy="846" r="4.3"/><circle cx="1404.5" cy="826.4" r="4.3"/><circle cx="1407.7" cy="820.6" r="4.3"/><circle cx="1397.4" cy="816.3" r="4.3"/><circle cx="1416.8" cy="873.2" r="4.3"/><circle cx="1364" cy="788.3" r="4.3"/><circle cx="1374" cy="785.8" r="4.3"/><circle cx="1416" cy="851.8" r="4.3"/><circle cx="1378.4" cy="784.7" r="4.3"/><circle cx="1380" cy="785.7" r="4.3"/><circle cx="1394" cy="852.3" r="4.3"/><circle cx="1386" cy="819.7" r="4.3"/><circle cx="1378.4" cy="791.4" r="4.3"/><circle cx="1435.3" cy="873.4" r="4.3"/><circle cx="1388" cy="828" r="4.3"/><circle cx="1403.2" cy="815.4" r="4.3"/><circle cx="1414.5" cy="870.8" r="4.3"/><circle cx="1387.4" cy="820.4" r="4.3"/><circle cx="1394.2" cy="822.7" r="4.3"/><circle cx="1424.3" cy="862.1" r="4.3"/><circle cx="1409.3" cy="839.8" r="4.3"/><circle cx="1401.7" cy="869.4" r="4.3"/><circle cx="1400.6" cy="835.3" r="4.3"/><circle cx="1436.2" cy="877.9" r="4.3"/><circle cx="1381.4" cy="783" r="4.3"/><circle cx="1380.3" cy="786.1" r="4.3"/><circle cx="1424.1" cy="871.2" r="4.3"/><circle cx="1382.9" cy="795.2" r="4.3"/><circle cx="1393.8" cy="807.4" r="4.3"/><circle cx="1395.1" cy="836.3" r="4.3"/><circle cx="1395.4" cy="817.5" r="4.3"/><circle cx="1404.9" cy="833.5" r="4.3"/><circle cx="1404.4" cy="854" r="4.3"/><circle cx="1426.4" cy="864.5" r="4.3"/><circle cx="1426.5" cy="862.7" r="4.3"/><circle cx="1426.3" cy="877" r="4.3"/><circle cx="1404.8" cy="853.9" r="4.3"/><circle cx="1401.9" cy="825.9" r="4.3"/><circle cx="1426.4" cy="880.6" r="4.3"/><circle cx="1376.8" cy="802.4" r="4.3"/><circle cx="1421.5" cy="877.6" r="4.3"/><circle cx="1383.5" cy="791" r="4.3"/><circle cx="1380.2" cy="799.5" r="4.3"/><circle cx="1385.4" cy="842.4" r="4.3"/><circle cx="1368.3" cy="789.8" r="4.3"/><circle cx="1387.9" cy="806.3" r="4.3"/><circle cx="1377.5" cy="804.6" r="4.3"/><circle cx="1375.6" cy="798.9" r="4.3"/><circle cx="1399.1" cy="838.7" r="4.3"/><circle cx="1399.4" cy="809.1" r="4.3"/><circle cx="1405.2" cy="817.7" r="4.3"/><circle cx="1381.2" cy="831.9" r="4.3"/><circle cx="1420" cy="876.1" r="4.3"/><circle cx="1391.1" cy="836.7" r="4.3"/><circle cx="1428.2" cy="880.7" r="4.3"/><circle cx="1368.6" cy="773.8" r="4.3"/><circle cx="1416.2" cy="862.2" r="4.3"/><circle cx="1374.5" cy="796.3" r="4.3"/><circle cx="1386.6" cy="809.1" r="4.3"/><circle cx="1395.7" cy="847.5" r="4.3"/><circle cx="1408.3" cy="837" r="4.3"/><circle cx="1373.3" cy="771.6" r="4.3"/><circle cx="1405.7" cy="864.2" r="4.3"/><circle cx="1407.2" cy="854.5" r="4.3"/><circle cx="1399.1" cy="830.9" r="4.3"/><circle cx="1426.5" cy="867.6" r="4.3"/><circle cx="1379.6" cy="825.8" r="4.3"/><circle cx="1415.3" cy="864.3" r="4.3"/><circle cx="1410.2" cy="836.5" r="4.3"/><circle cx="1374.2" cy="814.4" r="4.3"/><circle cx="1395.3" cy="814" r="4.3"/><circle cx="1377.1" cy="819.6" r="4.3"/><circle cx="1408.3" cy="823.2" r="4.3"/><circle cx="1397.3" cy="865" r="4.3"/><circle cx="1382.5" cy="821.5" r="4.3"/><circle cx="1383.6" cy="840.4" r="4.3"/><circle cx="1427.8" cy="880.8" r="4.3"/><circle cx="1398.4" cy="844.9" r="4.3"/><circle cx="1393.9" cy="838" r="4.3"/><circle cx="1384.1" cy="823.3" r="4.3"/><circle cx="1377.8" cy="802.1" r="4.3"/><circle cx="1430.6" cy="875.6" r="4.3"/><circle cx="1375.6" cy="816.9" r="4.3"/><circle cx="1383.2" cy="794.4" r="4.3"/><circle cx="1403.9" cy="853.6" r="4.3"/><circle cx="1400.8" cy="865.9" r="4.3"/><circle cx="1372.8" cy="805.1" r="4.3"/><circle cx="1407.3" cy="824.5" r="4.3"/><circle cx="1399" cy="826.5" r="4.3"/><circle cx="1406.9" cy="859.5" r="4.3"/><circle cx="1372.9" cy="816.7" r="4.3"/><circle cx="1409.1" cy="823.8" r="4.3"/><circle cx="1415.8" cy="861.3" r="4.3"/><circle cx="1369" cy="775.5" r="4.3"/><circle cx="1400.1" cy="848.5" r="4.3"/><circle cx="1409.2" cy="835" r="4.3"/><circle cx="1412" cy="844.8" r="4.3"/><circle cx="1415.1" cy="871.8" r="4.3"/><circle cx="1404.8" cy="833.7" r="4.3"/><circle cx="1437.3" cy="880.2" r="4.3"/><circle cx="1430.1" cy="865.2" r="4.3"/><circle cx="1388.7" cy="846.2" r="4.3"/><circle cx="1391.5" cy="807.1" r="4.3"/><circle cx="1384.7" cy="817" r="4.3"/><circle cx="1411.9" cy="830" r="4.3"/><circle cx="1379.2" cy="793.8" r="4.3"/><circle cx="1392.2" cy="839.9" r="4.3"/><circle cx="1431.3" cy="872.5" r="4.3"/><circle cx="1413.3" cy="843.4" r="4.3"/><circle cx="1379" cy="812.3" r="4.3"/><circle cx="1390.2" cy="841.5" r="4.3"/><circle cx="1383.5" cy="838.3" r="4.3"/><circle cx="1394.6" cy="799.9" r="4.3"/><circle cx="1410.7" cy="849.1" r="4.3"/><circle cx="1412.3" cy="856.5" r="4.3"/><circle cx="1402" cy="862.4" r="4.3"/><circle cx="1392" cy="830.5" r="4.3"/><circle cx="1401.4" cy="840.7" r="4.3"/><circle cx="1380.9" cy="809.4" r="4.3"/><circle cx="1494.3" cy="844.4" r="4.3"/><circle cx="1514.6" cy="796.3" r="4.3"/><circle cx="1504" cy="828.8" r="4.3"/><circle cx="1492.7" cy="849.4" r="4.3"/><circle cx="1510.9" cy="830.4" r="4.3"/><circle cx="1474.3" cy="866.2" r="4.3"/><circle cx="1495" cy="837.5" r="4.3"/><circle cx="1511.4" cy="833.9" r="4.3"/><circle cx="1513.4" cy="815.1" r="4.3"/><circle cx="1474.6" cy="870.6" r="4.3"/><circle cx="1485.2" cy="855.6" r="4.3"/><circle cx="1513.1" cy="787.5" r="4.3"/><circle cx="1481.9" cy="831.8" r="4.3"/><circle cx="1477.8" cy="849.7" r="4.3"/><circle cx="1497.6" cy="813.5" r="4.3"/><circle cx="1529.2" cy="787.8" r="4.3"/><circle cx="1484.8" cy="846.9" r="4.3"/><circle cx="1487" cy="861.1" r="4.3"/><circle cx="1480.4" cy="837.5" r="4.3"/><circle cx="1481.6" cy="859.7" r="4.3"/><circle cx="1459.7" cy="875.8" r="4.3"/><circle cx="1492.1" cy="813.1" r="4.3"/><circle cx="1469.3" cy="870.2" r="4.3"/><circle cx="1489.3" cy="818.7" r="4.3"/><circle cx="1510.2" cy="783.6" r="4.3"/><circle cx="1515.2" cy="831.6" r="4.3"/><circle cx="1492.1" cy="829.2" r="4.3"/><circle cx="1460.8" cy="873.2" r="4.3"/><circle cx="1477.1" cy="864.5" r="4.3"/><circle cx="1525.6" cy="799.3" r="4.3"/><circle cx="1500" cy="802.6" r="4.3"/><circle cx="1462.6" cy="868.6" r="4.3"/><circle cx="1495.3" cy="853" r="4.3"/><circle cx="1464.4" cy="867.6" r="4.3"/><circle cx="1483.4" cy="850.3" r="4.3"/><circle cx="1508.3" cy="788.8" r="4.3"/><circle cx="1475.4" cy="851.3" r="4.3"/><circle cx="1517.2" cy="806.4" r="4.3"/><circle cx="1517.4" cy="820" r="4.3"/><circle cx="1486.1" cy="839.4" r="4.3"/><circle cx="1462.7" cy="873.6" r="4.3"/><circle cx="1504.3" cy="844" r="4.3"/><circle cx="1502" cy="826.3" r="4.3"/><circle cx="1508.9" cy="785.1" r="4.3"/><circle cx="1494.7" cy="808.2" r="4.3"/><circle cx="1498.6" cy="811.6" r="4.3"/><circle cx="1496.9" cy="811" r="4.3"/><circle cx="1458.6" cy="870.7" r="4.3"/><circle cx="1495.8" cy="828.1" r="4.3"/><circle cx="1460.1" cy="873.5" r="4.3"/><circle cx="1490" cy="836.6" r="4.3"/><circle cx="1488" cy="846.4" r="4.3"/><circle cx="1504.3" cy="832.4" r="4.3"/><circle cx="1485.2" cy="833.7" r="4.3"/><circle cx="1484.2" cy="858.5" r="4.3"/><circle cx="1516.7" cy="806.3" r="4.3"/><circle cx="1472.9" cy="859.6" r="4.3"/><circle cx="1501.6" cy="830.5" r="4.3"/><circle cx="1501.8" cy="831.2" r="4.3"/><circle cx="1495" cy="851.9" r="4.3"/><circle cx="1495.6" cy="799.8" r="4.3"/><circle cx="1496.1" cy="831.4" r="4.3"/><circle cx="1493.8" cy="809.5" r="4.3"/><circle cx="1472.3" cy="871.4" r="4.3"/><circle cx="1470.2" cy="859.8" r="4.3"/><circle cx="1500.1" cy="813.8" r="4.3"/><circle cx="1483" cy="842.5" r="4.3"/><circle cx="1503.5" cy="839.3" r="4.3"/><circle cx="1500.2" cy="799" r="4.3"/><circle cx="1493.7" cy="849.4" r="4.3"/><circle cx="1510.8" cy="786.8" r="4.3"/><circle cx="1494.8" cy="804.4" r="4.3"/><circle cx="1516" cy="830.7" r="4.3"/><circle cx="1519.2" cy="796.1" r="4.3"/><circle cx="1528.2" cy="784.1" r="4.3"/><circle cx="1505.6" cy="795.7" r="4.3"/><circle cx="1485.3" cy="824.9" r="4.3"/><circle cx="1462.4" cy="881.7" r="4.3"/><circle cx="1510" cy="805.8" r="4.3"/><circle cx="1521.5" cy="807.2" r="4.3"/><circle cx="1521.2" cy="819" r="4.3"/><circle cx="1488.1" cy="841.4" r="4.3"/><circle cx="1483.6" cy="845.3" r="4.3"/><circle cx="1487.8" cy="849.9" r="4.3"/><circle cx="1470.2" cy="869.2" r="4.3"/><circle cx="1485.6" cy="864.9" r="4.3"/><circle cx="1499.2" cy="804.2" r="4.3"/><circle cx="1484.9" cy="836" r="4.3"/><circle cx="1503" cy="804.2" r="4.3"/><circle cx="1506.9" cy="827" r="4.3"/><circle cx="1472.5" cy="866.6" r="4.3"/><circle cx="1510.3" cy="788.2" r="4.3"/><circle cx="1497" cy="810.4" r="4.3"/><circle cx="1520.9" cy="809.3" r="4.3"/><circle cx="1480.3" cy="851.7" r="4.3"/><circle cx="1507" cy="797.2" r="4.3"/><circle cx="1493.4" cy="857.4" r="4.3"/><circle cx="1513.2" cy="782" r="4.3"/><circle cx="1508.6" cy="789.5" r="4.3"/><circle cx="1468.5" cy="857.8" r="4.3"/><circle cx="1487.3" cy="822" r="4.3"/><circle cx="1497" cy="797" r="4.3"/><circle cx="1507.5" cy="814.4" r="4.3"/><circle cx="1504.6" cy="795.4" r="4.3"/><circle cx="1473.5" cy="853.2" r="4.3"/><circle cx="1515.6" cy="802.9" r="4.3"/><circle cx="1515.4" cy="822.9" r="4.3"/><circle cx="1503.7" cy="805.4" r="4.3"/><circle cx="1494.4" cy="804" r="4.3"/><circle cx="1499.5" cy="843.4" r="4.3"/><circle cx="1466.8" cy="878.5" r="4.3"/><circle cx="1475.2" cy="872.5" r="4.3"/><circle cx="1497.7" cy="847.3" r="4.3"/><circle cx="1495.5" cy="806.4" r="4.3"/><circle cx="1486.2" cy="825" r="4.3"/><circle cx="1503.5" cy="821.2" r="4.3"/><circle cx="1503.9" cy="810.9" r="4.3"/><circle cx="1505.3" cy="829.2" r="4.3"/><circle cx="1503.2" cy="806.6" r="4.3"/><circle cx="1504.7" cy="824.5" r="4.3"/><circle cx="1490.7" cy="850.6" r="4.3"/><circle cx="1512.4" cy="782.5" r="4.3"/><circle cx="1501.2" cy="786.8" r="4.3"/><circle cx="1497.3" cy="831" r="4.3"/><circle cx="1489.8" cy="815.6" r="4.3"/><circle cx="1507.4" cy="818" r="4.3"/><circle cx="1497.4" cy="809.4" r="4.3"/><circle cx="1515.7" cy="828.9" r="4.3"/><circle cx="1519.8" cy="819.1" r="4.3"/><circle cx="1484.9" cy="857.8" r="4.3"/><circle cx="1494.4" cy="823.7" r="4.3"/><circle cx="1475.1" cy="863.9" r="4.3"/><circle cx="1460.7" cy="871.6" r="4.3"/><circle cx="1492.8" cy="832.2" r="4.3"/><circle cx="1455.7" cy="878.9" r="4.3"/><circle cx="1500.3" cy="805.6" r="4.3"/><circle cx="1514.2" cy="780" r="4.3"/><circle cx="1512.8" cy="806.8" r="4.3"/><circle cx="1497.6" cy="835.7" r="4.3"/><circle cx="1473.6" cy="863.9" r="4.3"/><circle cx="1498.8" cy="818" r="4.3"/><circle cx="1489.4" cy="852.3" r="4.3"/><circle cx="1456.1" cy="877.5" r="4.3"/><circle cx="1492.5" cy="842.5" r="4.3"/><circle cx="1512.8" cy="819.9" r="4.3"/><circle cx="1487.6" cy="834.3" r="4.3"/><circle cx="1506.2" cy="815.6" r="4.3"/><circle cx="1499.2" cy="793.8" r="4.3"/><circle cx="1501.3" cy="791.6" r="4.3"/><circle cx="1499.7" cy="827.3" r="4.3"/><circle cx="1522.1" cy="798.4" r="4.3"/><circle cx="1515.6" cy="785.8" r="4.3"/><circle cx="1486.5" cy="860.3" r="4.3"/><circle cx="1502.3" cy="808.1" r="4.3"/><circle cx="1517" cy="816.7" r="4.3"/><circle cx="1476.5" cy="863.3" r="4.3"/><circle cx="1494.2" cy="851" r="4.3"/><circle cx="1476.5" cy="860.6" r="4.3"/><circle cx="1477.7" cy="847" r="4.3"/><circle cx="1530.8" cy="781.3" r="4.3"/><circle cx="1468" cy="878" r="4.3"/><circle cx="1498.4" cy="824.3" r="4.3"/><circle cx="1455.9" cy="874.1" r="4.3"/><circle cx="1471.2" cy="851.7" r="4.3"/><circle cx="1522.8" cy="811.5" r="4.3"/><circle cx="1498" cy="793.5" r="4.3"/><circle cx="1491.4" cy="835.2" r="4.3"/><circle cx="1517.3" cy="814.1" r="4.3"/><circle cx="1510.7" cy="811.4" r="4.3"/><circle cx="1478.3" cy="857.6" r="4.3"/><circle cx="1493.9" cy="849.7" r="4.3"/><circle cx="1499.5" cy="796.4" r="4.3"/><circle cx="1468.3" cy="873.8" r="4.3"/><circle cx="1497.8" cy="793.5" r="4.3"/><circle cx="1498.7" cy="837.2" r="4.3"/><circle cx="1506.6" cy="810.5" r="4.3"/><circle cx="1489.1" cy="819.4" r="4.3"/><circle cx="1508.9" cy="787.4" r="4.3"/><circle cx="1513.8" cy="788.8" r="4.3"/><circle cx="1465.1" cy="881.4" r="4.3"/><circle cx="1509.9" cy="830.1" r="4.3"/><circle cx="1505" cy="821.9" r="4.3"/><circle cx="1481.2" cy="845.9" r="4.3"/><circle cx="1481.1" cy="874.9" r="4.3"/><circle cx="1508.5" cy="826.9" r="4.3"/><circle cx="1500.4" cy="799.3" r="4.3"/><circle cx="1508.4" cy="793" r="4.3"/><circle cx="1482.7" cy="856" r="4.3"/><circle cx="1531.6" cy="780.7" r="4.3"/><circle cx="1526.9" cy="780.9" r="4.3"/><circle cx="1477.4" cy="860" r="4.3"/><circle cx="1487.7" cy="860.9" r="4.3"/><circle cx="1470.4" cy="879.7" r="4.3"/><circle cx="1493.9" cy="823" r="4.3"/><circle cx="1473" cy="871.6" r="4.3"/><circle cx="1504.4" cy="805.5" r="4.3"/><circle cx="1483.8" cy="846" r="4.3"/><circle cx="1482.4" cy="844.1" r="4.3"/><circle cx="1459.8" cy="871.3" r="4.3"/><circle cx="1495.8" cy="816.7" r="4.3"/><circle cx="1488.1" cy="854.8" r="4.3"/><circle cx="1499.4" cy="799.8" r="4.3"/><circle cx="1488.5" cy="817.8" r="4.3"/><circle cx="1491.6" cy="831.8" r="4.3"/><circle cx="1485.5" cy="835" r="4.3"/><circle cx="1480.9" cy="868.7" r="4.3"/><circle cx="1510.8" cy="792.5" r="4.3"/><circle cx="1462.5" cy="877.2" r="4.3"/><circle cx="1478.3" cy="850.8" r="4.3"/><circle cx="1481" cy="848.2" r="4.3"/><circle cx="1525" cy="800.3" r="4.3"/><circle cx="1507.7" cy="796.6" r="4.3"/><circle cx="1492.6" cy="844.5" r="4.3"/><circle cx="1476.7" cy="869.4" r="4.3"/><circle cx="1484.1" cy="831.9" r="4.3"/><circle cx="1476.4" cy="864.7" r="4.3"/><circle cx="1483.9" cy="846.7" r="4.3"/><circle cx="1510.6" cy="806" r="4.3"/><circle cx="1502" cy="832.9" r="4.3"/><circle cx="1504" cy="826.8" r="4.3"/><circle cx="1467.8" cy="873.8" r="4.3"/><circle cx="1455.8" cy="881.3" r="4.3"/><circle cx="1480.1" cy="854.6" r="4.3"/><circle cx="1489.1" cy="867.4" r="4.3"/><circle cx="1510.7" cy="830.9" r="4.3"/><circle cx="1498.5" cy="845.2" r="4.3"/><circle cx="1494.6" cy="860.3" r="4.3"/><circle cx="1521.4" cy="787.4" r="4.3"/><circle cx="1506.3" cy="808.2" r="4.3"/><circle cx="1485.2" cy="835" r="4.3"/><circle cx="1493.2" cy="811.1" r="4.3"/><circle cx="1494.5" cy="836.6" r="4.3"/><circle cx="1519.1" cy="807.3" r="4.3"/><circle cx="1493.2" cy="857.8" r="4.3"/><circle cx="1476.4" cy="860.2" r="4.3"/><circle cx="1508.8" cy="790.9" r="4.3"/><circle cx="1464.2" cy="867.3" r="4.3"/><circle cx="1520.7" cy="800.4" r="4.3"/><circle cx="1477" cy="842.2" r="4.3"/><circle cx="1463.1" cy="880.2" r="4.3"/><circle cx="1465.3" cy="868.5" r="4.3"/><circle cx="1472.7" cy="847.1" r="4.3"/><circle cx="1509.8" cy="816.9" r="4.3"/><circle cx="1513.2" cy="811.1" r="4.3"/><circle cx="1516" cy="800.2" r="4.3"/><circle cx="1486.2" cy="828.3" r="4.3"/><circle cx="1463.8" cy="874.8" r="4.3"/><circle cx="1515.2" cy="802.3" r="4.3"/><circle cx="1477.6" cy="854.3" r="4.3"/><circle cx="1507.1" cy="823.2" r="4.3"/><circle cx="1498.3" cy="825.2" r="4.3"/><circle cx="1515.8" cy="827.6" r="4.3"/><circle cx="1496.3" cy="817.5" r="4.3"/><circle cx="1506" cy="838.6" r="4.3"/><circle cx="1512.5" cy="812" r="4.3"/><circle cx="1496.1" cy="827.8" r="4.3"/><circle cx="1481.4" cy="854.8" r="4.3"/><circle cx="1508.1" cy="787.2" r="4.3"/><circle cx="1493.5" cy="826.5" r="4.3"/><circle cx="1477.9" cy="849.8" r="4.3"/><circle cx="1516.1" cy="823.6" r="4.3"/><circle cx="1502.8" cy="808" r="4.3"/><circle cx="1481.6" cy="863" r="4.3"/><circle cx="1509.7" cy="835.5" r="4.3"/><circle cx="1510.1" cy="789.7" r="4.3"/><circle cx="1479.4" cy="852.7" r="4.3"/><circle cx="1458.4" cy="870.7" r="4.3"/><circle cx="1485.2" cy="843.7" r="4.3"/><circle cx="1505.9" cy="828.4" r="4.3"/><circle cx="1506.7" cy="841.4" r="4.3"/><circle cx="1465.1" cy="881.1" r="4.3"/><circle cx="1503.3" cy="845.5" r="4.3"/><circle cx="1511.8" cy="787.2" r="4.3"/><circle cx="1502.8" cy="845.8" r="4.3"/><circle cx="1498.2" cy="803.3" r="4.3"/><circle cx="1488.6" cy="822.2" r="4.3"/><circle cx="1514.4" cy="798.8" r="4.3"/><circle cx="1491.9" cy="854.7" r="4.3"/><circle cx="1472.4" cy="853.6" r="4.3"/><circle cx="1512.4" cy="828.7" r="4.3"/><circle cx="1454.1" cy="875.4" r="4.3"/><circle cx="1506.2" cy="818.3" r="4.3"/><circle cx="1506.9" cy="792.4" r="4.3"/><circle cx="1500.3" cy="832.1" r="4.3"/><circle cx="1512.7" cy="794.3" r="4.3"/><circle cx="1498.4" cy="812.4" r="4.3"/><circle cx="1492.5" cy="823.6" r="4.3"/><circle cx="1499" cy="827.2" r="4.3"/><circle cx="1486.9" cy="865.7" r="4.3"/><circle cx="1511.9" cy="797.6" r="4.3"/><circle cx="1515.1" cy="823.4" r="4.3"/><circle cx="1452.5" cy="877.3" r="4.3"/><circle cx="1518.3" cy="797.6" r="4.3"/><circle cx="1485.3" cy="851.7" r="4.3"/><circle cx="1510.3" cy="782.8" r="4.3"/><circle cx="1473.1" cy="877.4" r="4.3"/><circle cx="1502.5" cy="785.1" r="4.3"/><circle cx="1520.8" cy="808.7" r="4.3"/><circle cx="1510.9" cy="815.7" r="4.3"/><circle cx="1474.9" cy="869.4" r="4.3"/><circle cx="1494.1" cy="832" r="4.3"/><circle cx="1498.5" cy="813.3" r="4.3"/><circle cx="1503.7" cy="819.5" r="4.3"/><circle cx="1503.2" cy="818.6" r="4.3"/><circle cx="1501.8" cy="785.7" r="4.3"/><circle cx="1493.2" cy="834" r="4.3"/><circle cx="1504.7" cy="804.9" r="4.3"/><circle cx="1497.1" cy="814.4" r="4.3"/><circle cx="1468.3" cy="855.6" r="4.3"/><circle cx="1485.2" cy="823.5" r="4.3"/><circle cx="1487.8" cy="840.1" r="4.3"/><circle cx="1485.5" cy="840.3" r="4.3"/><circle cx="1485.4" cy="841.2" r="4.3"/><circle cx="1507.3" cy="831.4" r="4.3"/><circle cx="1507.7" cy="785.8" r="4.3"/><circle cx="1504.8" cy="810.3" r="4.3"/><circle cx="1469.6" cy="866.7" r="4.3"/><circle cx="1500.2" cy="848.2" r="4.3"/><circle cx="1473.3" cy="863.7" r="4.3"/><circle cx="1483.3" cy="862.6" r="4.3"/><circle cx="1501.1" cy="786.5" r="4.3"/><circle cx="1503.6" cy="842.9" r="4.3"/><circle cx="1502.9" cy="844" r="4.3"/><circle cx="1468.1" cy="855.7" r="4.3"/><circle cx="1488.3" cy="854.3" r="4.3"/><circle cx="1452.4" cy="880.1" r="4.3"/><circle cx="1488.3" cy="858.6" r="4.3"/><circle cx="1501.9" cy="820.4" r="4.3"/><circle cx="1520" cy="793.1" r="4.3"/><circle cx="1525.1" cy="787.9" r="4.3"/><circle cx="1539.3" cy="780.8" r="4.3"/><circle cx="1577.8" cy="775.6" r="4.3"/><circle cx="1543.8" cy="779.9" r="4.3"/><circle cx="1572.5" cy="778.4" r="4.3"/><circle cx="1555.7" cy="775.7" r="4.3"/><circle cx="1551.4" cy="774.8" r="4.3"/><circle cx="1556.7" cy="780.9" r="4.3"/><circle cx="1569.8" cy="781.1" r="4.3"/><circle cx="1541.7" cy="775.5" r="4.3"/><circle cx="1550" cy="780.1" r="4.3"/><circle cx="1561.2" cy="776" r="4.3"/><circle cx="1560.4" cy="779.4" r="4.3"/><circle cx="1560.8" cy="782.5" r="4.3"/><circle cx="1549.1" cy="779.1" r="4.3"/><circle cx="1546.1" cy="781.1" r="4.3"/><circle cx="1545.9" cy="781.5" r="4.3"/><circle cx="1551.4" cy="775.1" r="4.3"/><circle cx="1562.4" cy="781.3" r="4.3"/><circle cx="1575.8" cy="779.8" r="4.3"/><circle cx="1544.7" cy="778.8" r="4.3"/><circle cx="1548.1" cy="781.6" r="4.3"/><circle cx="1566.1" cy="782.6" r="4.3"/><circle cx="1541.7" cy="748.2" r="4.3"/><circle cx="1556.7" cy="743.7" r="4.3"/><circle cx="1557.4" cy="750.9" r="4.3"/><circle cx="1548.7" cy="744.4" r="4.3"/><circle cx="1556.7" cy="748.7" r="4.3"/><circle cx="1562.3" cy="748.4" r="4.3"/><circle cx="1563.2" cy="749.6" r="4.3"/><circle cx="1559.9" cy="749.9" r="4.3"/><circle cx="1538.8" cy="750" r="4.3"/><circle cx="1538.9" cy="742.2" r="4.3"/><circle cx="1534.7" cy="745.2" r="4.3"/><circle cx="1540" cy="747.3" r="4.3"/><circle cx="1560.5" cy="745" r="4.3"/><circle cx="1559.8" cy="743.8" r="4.3"/><circle cx="1555.6" cy="748.7" r="4.3"/><circle cx="1562.1" cy="747.9" r="4.3"/><circle cx="1532" cy="750.5" r="4.3"/><circle cx="1557.5" cy="752.3" r="4.3"/><circle cx="1543" cy="744.6" r="4.3"/><circle cx="1547.7" cy="750" r="4.3"/><circle cx="1538.2" cy="748.2" r="4.3"/><circle cx="1562.8" cy="752.4" r="4.3"/><circle cx="1561.5" cy="749.2" r="4.3"/><circle cx="1534.3" cy="743.1" r="4.3"/><circle cx="1560.4" cy="752.9" r="4.3"/><circle cx="1532.5" cy="742.6" r="4.3"/><circle cx="1541.7" cy="721.4" r="4.3"/><circle cx="1539.6" cy="730.6" r="4.3"/><circle cx="1536.8" cy="728.3" r="4.3"/><circle cx="1534.9" cy="723.6" r="4.3"/><circle cx="1538.7" cy="728" r="4.3"/><circle cx="1531.9" cy="726.8" r="4.3"/><circle cx="1409.7" cy="820.2" r="4.3"/><circle cx="1381.8" cy="826.6" r="4.3"/><circle cx="1401.2" cy="806.7" r="4.3"/><circle cx="1429.5" cy="862.1" r="4.3"/><circle cx="1381" cy="852.5" r="4.3"/><circle cx="1396.6" cy="820.6" r="4.3"/><circle cx="1413.2" cy="831" r="4.3"/><circle cx="1388" cy="781.8" r="4.3"/><circle cx="1380.7" cy="775.5" r="4.3"/><circle cx="1386.2" cy="860.2" r="4.3"/><circle cx="1402.9" cy="849.7" r="4.3"/><circle cx="1406.1" cy="828.4" r="4.3"/><circle cx="1372.3" cy="770.8" r="4.3"/><circle cx="1405.1" cy="862.1" r="4.3"/><circle cx="1361" cy="806.6" r="4.3"/><circle cx="1403.5" cy="844.5" r="4.3"/><circle cx="1397.6" cy="823.6" r="4.3"/><circle cx="1404.1" cy="817.3" r="4.3"/><circle cx="1363.9" cy="791" r="4.3"/><circle cx="1379.8" cy="819.5" r="4.3"/><circle cx="1367.6" cy="797.8" r="4.3"/><circle cx="1406.7" cy="823.2" r="4.3"/><circle cx="1366.3" cy="792.2" r="4.3"/><circle cx="1389.5" cy="806.3" r="4.3"/><circle cx="1380.6" cy="846.5" r="4.3"/><circle cx="1386.1" cy="844.1" r="4.3"/><circle cx="1379.4" cy="814.2" r="4.3"/><circle cx="1404.5" cy="808.7" r="4.3"/><circle cx="1397" cy="811.5" r="4.3"/><circle cx="1413.7" cy="845.6" r="4.3"/><circle cx="1388" cy="810.8" r="4.3"/><circle cx="1413.3" cy="842.2" r="4.3"/><circle cx="1363.8" cy="772.9" r="4.3"/><circle cx="1358.1" cy="779.3" r="4.3"/><circle cx="1393.5" cy="794.4" r="4.3"/><circle cx="1427.6" cy="858.4" r="4.3"/><circle cx="1388.1" cy="787.7" r="4.3"/><circle cx="1381.4" cy="792.9" r="4.3"/><circle cx="1426" cy="854.3" r="4.3"/><circle cx="1369.1" cy="817.4" r="4.3"/><circle cx="1361.4" cy="801" r="4.3"/><circle cx="1356.6" cy="792.2" r="4.3"/><circle cx="1364.9" cy="804.2" r="4.3"/><circle cx="1392.7" cy="823.7" r="4.3"/><circle cx="1420.1" cy="843.8" r="4.3"/><circle cx="1355.7" cy="781" r="4.3"/><circle cx="1399.4" cy="804.4" r="4.3"/><circle cx="1380.7" cy="821.6" r="4.3"/><circle cx="1404.7" cy="827" r="4.3"/><circle cx="1414.2" cy="861.9" r="4.3"/><circle cx="1388.3" cy="851.1" r="4.3"/><circle cx="1385.4" cy="859.4" r="4.3"/><circle cx="1378.3" cy="844.1" r="4.3"/><circle cx="1381.6" cy="789.8" r="4.3"/><circle cx="1364.5" cy="794.8" r="4.3"/><circle cx="1408" cy="847.3" r="4.3"/><circle cx="1364.5" cy="818.1" r="4.3"/><circle cx="1370.6" cy="803.7" r="4.3"/><circle cx="1392.3" cy="831.7" r="4.3"/><circle cx="1387.1" cy="832.1" r="4.3"/><circle cx="1400.8" cy="854.3" r="4.3"/><circle cx="1382.4" cy="824.8" r="4.3"/><circle cx="1426.9" cy="856.8" r="4.3"/><circle cx="1387.3" cy="851.7" r="4.3"/><circle cx="1379.1" cy="822.3" r="4.3"/><circle cx="1363.1" cy="790.8" r="4.3"/><circle cx="1412.6" cy="828.5" r="4.3"/><circle cx="1387.7" cy="801.8" r="4.3"/><circle cx="1382.4" cy="807.8" r="4.3"/><circle cx="1401.1" cy="857.7" r="4.3"/><circle cx="1510.8" cy="780" r="4.3"/><circle cx="1501.7" cy="827.9" r="4.3"/><circle cx="1517.5" cy="787.3" r="4.3"/><circle cx="1489.9" cy="833.3" r="4.3"/><circle cx="1522.9" cy="817.3" r="4.3"/><circle cx="1526.7" cy="800" r="4.3"/><circle cx="1513.2" cy="801.8" r="4.3"/><circle cx="1529.9" cy="816.4" r="4.3"/><circle cx="1497.1" cy="821.2" r="4.3"/><circle cx="1482.1" cy="849.9" r="4.3"/><circle cx="1529.5" cy="796.7" r="4.3"/><circle cx="1508.7" cy="846.6" r="4.3"/><circle cx="1508.3" cy="836.7" r="4.3"/><circle cx="1476.7" cy="847.2" r="4.3"/><circle cx="1479.4" cy="847.4" r="4.3"/><circle cx="1485.9" cy="856.7" r="4.3"/><circle cx="1515.8" cy="809.5" r="4.3"/><circle cx="1491.7" cy="856.4" r="4.3"/><circle cx="1501.8" cy="785.3" r="4.3"/><circle cx="1474.6" cy="862.6" r="4.3"/><circle cx="1526.5" cy="795.8" r="4.3"/><circle cx="1466.7" cy="862.9" r="4.3"/><circle cx="1513.1" cy="839.6" r="4.3"/><circle cx="1509.9" cy="843.4" r="4.3"/><circle cx="1510.4" cy="827.7" r="4.3"/><circle cx="1499.9" cy="821.6" r="4.3"/><circle cx="1533.5" cy="781.6" r="4.3"/><circle cx="1525.8" cy="799.6" r="4.3"/><circle cx="1489.1" cy="837.3" r="4.3"/><circle cx="1518.9" cy="803.3" r="4.3"/><circle cx="1490.1" cy="836.8" r="4.3"/><circle cx="1476.2" cy="857.8" r="4.3"/><circle cx="1503.5" cy="859.7" r="4.3"/><circle cx="1483.2" cy="843.9" r="4.3"/><circle cx="1483.3" cy="824" r="4.3"/><circle cx="1486.7" cy="851.7" r="4.3"/><circle cx="1481.1" cy="841.4" r="4.3"/><circle cx="1494.9" cy="828.5" r="4.3"/><circle cx="1512.5" cy="785.8" r="4.3"/><circle cx="1512" cy="824.6" r="4.3"/><circle cx="1497.1" cy="815.3" r="4.3"/><circle cx="1489.6" cy="820.4" r="4.3"/><circle cx="1521.2" cy="816.8" r="4.3"/><circle cx="1525.4" cy="826.5" r="4.3"/><circle cx="1488" cy="855.1" r="4.3"/><circle cx="1468.9" cy="863.9" r="4.3"/><circle cx="1477.9" cy="843.1" r="4.3"/><circle cx="1515.1" cy="826.1" r="4.3"/><circle cx="1508.4" cy="839.7" r="4.3"/><circle cx="1498.4" cy="833.6" r="4.3"/><circle cx="1507.8" cy="816.6" r="4.3"/><circle cx="1465.1" cy="860.2" r="4.3"/><circle cx="1527.5" cy="785.9" r="4.3"/><circle cx="1505.4" cy="816.9" r="4.3"/><circle cx="1498.8" cy="828" r="4.3"/><circle cx="1506" cy="833.9" r="4.3"/><circle cx="1503.2" cy="783.9" r="4.3"/><circle cx="1498" cy="784.5" r="4.3"/><circle cx="1517.5" cy="785.9" r="4.3"/><circle cx="1533.3" cy="788.9" r="4.3"/><circle cx="1498.5" cy="820.9" r="4.3"/><circle cx="1474.5" cy="862.4" r="4.3"/><circle cx="1514.5" cy="799" r="4.3"/><circle cx="1527.3" cy="814.9" r="4.3"/><circle cx="1522" cy="802.1" r="4.3"/><circle cx="1505.6" cy="818.1" r="4.3"/><circle cx="1514.4" cy="818.4" r="4.3"/><circle cx="1522.1" cy="814.9" r="4.3"/><circle cx="1526.4" cy="818.4" r="4.3"/><circle cx="1527.3" cy="818.4" r="4.3"/><circle cx="1447.5" cy="882" r="4.3"/><circle cx="1445" cy="884" r="4.3"/><circle cx="1450" cy="884" r="4.3"/><circle cx="1346.3" cy="667.2" r="4.3"/><circle cx="1200.4" cy="727.7" r="4.3"/><circle cx="1284.4" cy="748" r="4.3"/><circle cx="1296" cy="780.7" r="4.3"/><circle cx="1297.2" cy="798.3" r="4.3"/><circle cx="1347.2" cy="719.5" r="4.3"/><circle cx="1335.9" cy="731.6" r="4.3"/><circle cx="1347.2" cy="734.6" r="4.3"/><circle cx="1360.8" cy="730.8" r="4.3"/><circle cx="1335.1" cy="742.2" r="4.3"/><circle cx="1348.7" cy="748.2" r="4.3"/><circle cx="1363.9" cy="747.5" r="4.3"/><circle cx="1360.8" cy="755" r="4.3"/><circle cx="1375.2" cy="755" r="4.3"/><circle cx="1358.6" cy="759.6" r="4.3"/><circle cx="1346.5" cy="764.1" r="4.3"/><circle cx="1353.3" cy="779.2" r="4.3"/><circle cx="1341.2" cy="789" r="4.3"/><circle cx="1338.9" cy="795.9" r="4.3"/><circle cx="1357" cy="807.2" r="4.3"/><circle cx="1350.2" cy="821.6" r="4.3"/><circle cx="1356.3" cy="820" r="4.3"/><circle cx="1365.4" cy="844.2" r="4.3"/><circle cx="1373.7" cy="843.5" r="4.3"/><circle cx="1366.9" cy="852.6" r="4.3"/><circle cx="1379" cy="860.1" r="4.3"/><circle cx="1387.3" cy="870.7" r="4.3"/><circle cx="1542.3" cy="718.7" r="4.3"/><circle cx="1560.4" cy="710.4" r="4.3"/><circle cx="1578.6" cy="718" r="4.3"/><circle cx="1565.7" cy="727.8" r="4.3"/><circle cx="1590.7" cy="727" r="4.3"/><circle cx="1548.3" cy="733.9" r="4.3"/><circle cx="1593.7" cy="747.5" r="4.3"/><circle cx="1603.5" cy="755" r="4.3"/><circle cx="1580.1" cy="759.6" r="4.3"/><circle cx="1518.1" cy="747.5" r="4.3"/><circle cx="1515.1" cy="753.5" r="4.3"/><circle cx="1525.7" cy="758.8" r="4.3"/><circle cx="1516.6" cy="767.9" r="4.3"/><circle cx="1530.2" cy="770.1" r="4.3"/><circle cx="1559.7" cy="789.8" r="4.3"/><circle cx="1537.8" cy="795.9" r="4.3"/><circle cx="1543.8" cy="798.9" r="4.3"/><circle cx="1577.1" cy="798.1" r="4.3"/><circle cx="1558.9" cy="803.4" r="4.3"/><circle cx="1527.2" cy="803.4" r="4.3"/><circle cx="1580.1" cy="807.9" r="4.3"/><circle cx="1577.1" cy="812.5" r="4.3"/><circle cx="1572.5" cy="817" r="4.3"/><circle cx="1565" cy="820" r="4.3"/><circle cx="1565.7" cy="826.1" r="4.3"/><circle cx="1589.2" cy="823.1" r="4.3"/><circle cx="1531.7" cy="836.7" r="4.3"/><circle cx="1542.3" cy="841.2" r="4.3"/><circle cx="1554.4" cy="839.7" r="4.3"/><circle cx="1530.9" cy="850.3" r="4.3"/><circle cx="1551.4" cy="849.5" r="4.3"/><circle cx="1521.1" cy="862.4" r="4.3"/><circle cx="1515.1" cy="866.9" r="4.3"/><circle cx="1503.7" cy="873" r="4.3"/><circle cx="1516.6" cy="869.9" r="4.3"/><circle cx="1704" cy="730.8" r="4.3"/><circle cx="1684" cy="725.3" r="4.3"/><circle cx="1681.3" cy="736.8" r="4.3"/><circle cx="1562" cy="702" r="4.3"/><circle cx="1560.6" cy="710" r="4.3"/><circle cx="1543" cy="818" r="4.3"/><circle cx="1548" cy="811" r="4.3"/><circle cx="1541" cy="826" r="4.3"/><circle cx="1509" cy="842" r="4.3"/><circle cx="1513" cy="836" r="4.3"/><circle cx="1506" cy="850" r="4.3"/>
</g>
<g fill="#d9363a" fill-opacity="0.5">
<circle cx="1180.3" cy="623.6" r="4.4"/>
</g>
<path d="M1434.2 864.3L1450.4 880.5L1434.2 896.7L1418 880.5Z" fill="none" stroke="#979797" stroke-width="2"/>
<path d="M1508.3 823.5L1524.5 839.7L1508.3 855.9L1492.1 839.7Z" fill="none" stroke="#979797" stroke-width="2"/>
<path d="M1511.3 828L1527.5 844.2L1511.3 860.4L1495.1 844.2Z" fill="none" stroke="#979797" stroke-width="2"/>
<path d="M1545.3 803.1L1561.5 819.3L1545.3 835.5L1529.1 819.3Z" fill="none" stroke="#979797" stroke-width="2"/>
<path d="M1704 714.6L1720.2 730.8L1704 747L1687.8 730.8Z" fill="none" stroke="#979797" stroke-width="2"/>
<path d="M1756 304.6L1771.8 320.4L1756 336.2L1740.2 320.4Z" fill="#3fb98c" fill-opacity="0.35" stroke="#2fae82" stroke-width="2" stroke-opacity="0.55"/>
<path d="M1764.5 340.9L1780.3 356.7L1764.5 372.5L1748.7 356.7Z" fill="#3fb98c" fill-opacity="0.35" stroke="#2fae82" stroke-width="2" stroke-opacity="0.55"/>
<path d="M1608.7 482.3L1624.5 498.1L1608.7 513.9L1592.9 498.1Z" fill="#3fb98c" fill-opacity="0.35" stroke="#2fae82" stroke-width="2" stroke-opacity="0.55"/>
<path d="M1565.6 652.5L1581.4 668.3L1565.6 684.1L1549.8 668.3Z" fill="#3fb98c" fill-opacity="0.5" stroke="#2fae82" stroke-width="2" stroke-opacity="0.7"/>
<path d="M1761.6 264.5L1778.1 281L1761.6 297.5L1745.1 281Z" fill="#c57aa6" fill-opacity="0.7"/>
<g fill="#0a8a0a" fill-opacity="0.58">
<circle cx="1704.5" cy="281" r="4.4"/><circle cx="1841.5" cy="331.4" r="4.4"/><circle cx="1608.7" cy="498.1" r="4.4"/><circle cx="1620.6" cy="498.1" r="4.4"/><circle cx="1631.3" cy="498.1" r="4.4"/><circle cx="1579" cy="630.2" r="4.4"/><circle cx="1588.1" cy="630.7" r="4.4"/><circle cx="1601" cy="644.4" r="4.4"/><circle cx="1627.3" cy="651.3" r="4.4"/><circle cx="1555.2" cy="651.8" r="4.4"/><circle cx="1588.1" cy="658.1" r="4.4"/><circle cx="1596.8" cy="658.1" r="4.4"/><circle cx="1580.4" cy="668.3" r="4.4"/><circle cx="1557.9" cy="698.7" r="4.4"/><circle cx="1756" cy="320.4" r="4.4"/><circle cx="1764.5" cy="356.7" r="4.4"/><circle cx="1565.6" cy="668.3" r="4.4"/><circle cx="1565.6" cy="668.3" r="4.4"/>
</g>
<circle cx="1761.6" cy="281" r="4.4" fill="#4f9d9a" fill-opacity="0.9"/>
<text x="1577.5" y="256" fill="#a04a7e" font-weight="bold"><tspan font-style="italic">Zm</tspan>CYP81A9-GFP</text>
<text x="1568.5" y="347.7" fill="#0f9a6e">CYP98A31</text>
<text x="1778" y="384.6" fill="#0f9a6e">CYP98A33</text>
<text x="1480" y="544.7" fill="#0f9a6e">CYP92A361</text>
<text x="1395" y="680.3" fill="#0f9a6e">CYP81B2</text>
<text x="1712.3" y="724.7" fill="#8a8a8a">CYP72D8</text>
<text x="1156.6" y="928.6" text-anchor="middle">−2</text>
<text x="1447.6" y="928.6" text-anchor="middle">0</text>
<text x="1737.7" y="928.6" text-anchor="middle">2</text>
<text x="1491.5" y="968.8" text-anchor="middle">log<tspan font-weight="bold" font-size="27" dy="-1">₂</tspan><tspan dy="1">FC (DB096 vs control)</tspan></text>
<rect x="957.8" y="11.3" width="226.5" height="154.4" fill="#fdfdfd" stroke="#9b9b9b" stroke-width="2.4"/>
<circle cx="995.3" cy="47.2" r="6.4" fill="#0a930a"/>
<path d="M995.3 80.2L1007.9 92.8L995.3 105.4L982.7 92.8Z" fill="#9a9a9a" stroke="#444" stroke-width="2.2"/>
<circle cx="995.3" cy="135.6" r="6.4" fill="#111"/>
<text x="1031.5" y="59" fill="#000">Enriched</text>
<text x="1031.5" y="104.2" fill="#000">CYP450</text>
<text x="1031.5" y="146.8" fill="#000">Others</text>
<path d="M117.6 1589.7L117.6 1148.2L117.9 1152.5L118.1 1156.8L118.4 1161L118.7 1165.3L119.1 1169.6L119.7 1173.8L120.5 1178.1L121.3 1182.4L122.1 1186.7L123 1191L123.9 1195.2L125 1199.5L126.1 1203.8L127.5 1208L129 1212.3L130.7 1216.6L132.7 1220.9L135.1 1225.2L137.7 1229.4L140.7 1233.7L144.1 1238L147.7 1242.2L151.5 1246.5L155.3 1250.8L161.5 1257.1L167.7 1262.7L173.9 1267.4L180.1 1271.8L186.2 1276.1L192.4 1280.2L198.6 1284L204.8 1287.7L211 1291.1L217.2 1294.4L223.4 1297.5L229.6 1300.2L235.8 1302.8L242 1305.2L248.1 1307.6L254.3 1310L260.5 1312.4L266.7 1314.9L272.9 1317.4L279.1 1319.9L285.3 1322.2L291.5 1324.5L297.7 1326.8L303.8 1329L310 1331.1L316.2 1333.1L322.4 1335L328.6 1336.8L334.8 1338.6L341 1340.3L347.2 1342L353.4 1343.7L359.5 1345.4L365.7 1347.1L371.9 1348.8L378.1 1350.5L384.3 1352.1L390.5 1353.6L396.7 1355.1L402.9 1356.6L409.1 1358L415.2 1359.4L421.4 1360.8L427.6 1362.2L433.8 1363.6L440 1364.9L446.2 1366.3L452.4 1367.7L458.6 1369L464.8 1370.4L471 1371.7L477.1 1373L483.3 1374.4L489.5 1375.7L495.7 1377.1L501.9 1378.4L508.1 1379.8L514.3 1381.2L520.5 1382.6L526.7 1384L532.8 1385.4L539 1386.8L545.2 1388.2L551.4 1389.6L557.6 1390.9L563.8 1392.2L570 1393.5L576.2 1394.7L582.4 1395.8L588.5 1396.9L594.7 1398L600.9 1399L607.1 1400L613.3 1401L619.5 1402L625.7 1403L631.9 1403.9L638.1 1404.9L644.3 1405.8L650.4 1406.8L656.6 1407.7L662.8 1408.7L669 1409.6L675.2 1410.6L681.4 1411.6L687.6 1412.5L693.8 1413.5L700 1414.5L706.1 1415.5L712.3 1416.5L718.5 1417.5L724.7 1418.4L730.9 1419.4L737.1 1420.4L743.3 1421.4L749.5 1422.4L755.7 1423.4L761.8 1424.4L768 1425.4L774.2 1426.4L780.4 1427.4L786.6 1428.4L792.8 1429.4L799 1430.4L805.2 1431.4L811.4 1432.5L817.6 1433.5L823.7 1434.5L829.9 1435.5L836.1 1436.6L842.3 1437.6L848.5 1438.7L854.7 1439.7L860.9 1440.7L867.1 1441.8L873.3 1442.8L879.4 1443.9L885.6 1445L891.8 1446.2L898 1447.4L904.2 1448.7L910.4 1450.1L916.6 1451.7L922.8 1453.2L929 1454.8L935.2 1456.3L941.3 1457.8L947.5 1459.3L953.7 1460.8L959.9 1462.5L966.1 1464.2L972.3 1466L978.5 1467.9L984.7 1469.9L990.9 1472.2L997 1474.6L1003.2 1477L1009.4 1479.6L1015.6 1483.2L1021.8 1487.9L1025.8 1492.1L1029.3 1496.4L1031.8 1500.6L1033.7 1504.9L1035.1 1509.1L1036.2 1513.4L1037 1517.6L1037.6 1521.8L1038.1 1526.1L1038.3 1530.3L1038.6 1534.6L1038.7 1538.8L1038.9 1543L1039 1547.3L1039 1551.5L1039 1555.8L1039.1 1560L1039.1 1564.2L1039.1 1568.5L1039.1 1572.7L1039.1 1577L1039.1 1581.2L1039.1 1585.5L1039.1 1589.7Z" fill="#c1c1c1"/>
<line x1="100.5" y1="1297.5" x2="1058.3" y2="1297.5" stroke="#8a8a8a" stroke-width="2"/>
<line x1="118" y1="1148.2" x2="118" y2="1589.7" stroke="#93486f" stroke-width="2.6"/>
<line x1="155.5" y1="1252.5" x2="155.5" y2="1589.7" stroke="#1ba276" stroke-width="3.2"/>
<line x1="240.8" y1="1306.3" x2="240.8" y2="1589.7" stroke="#1ba276" stroke-width="3.2"/>
<line x1="312.9" y1="1333.5" x2="312.9" y2="1589.7" stroke="#1ba276" stroke-width="3.2"/>
<line x1="387.1" y1="1354.3" x2="387.1" y2="1589.7" stroke="#1ba276" stroke-width="3.2"/>
<line x1="576" y1="1396.1" x2="576" y2="1589.7" stroke="#1ba276" stroke-width="3.2"/>
<line x1="612.9" y1="1401" x2="612.9" y2="1589.7" stroke="#1fa57a" stroke-width="3" stroke-dasharray="3 2.6"/>
<line x1="668.5" y1="1409.5" x2="668.5" y2="1589.7" stroke="#1fa57a" stroke-width="3" stroke-dasharray="3 2.6"/>
<line x1="680.9" y1="1411.5" x2="680.9" y2="1589.7" stroke="#1fa57a" stroke-width="3" stroke-dasharray="3 2.6"/>
<line x1="686.8" y1="1412.4" x2="686.8" y2="1589.7" stroke="#1fa57a" stroke-width="3" stroke-dasharray="3 2.6"/>
<line x1="633.6" y1="1404.2" x2="633.6" y2="1589.7" stroke="#1fa57a" stroke-width="3" stroke-dasharray="6 15"/>
<line x1="738.2" y1="1420.6" x2="738.2" y2="1589.7" stroke="#1fa57a" stroke-width="3" stroke-dasharray="6 15"/>
<line x1="957.8" y1="1461.9" x2="957.8" y2="1589.7" stroke="#1fa57a" stroke-width="3" stroke-dasharray="6 15"/>
<line x1="998.5" y1="1475.1" x2="998.5" y2="1589.7" stroke="#1fa57a" stroke-width="3" stroke-dasharray="6 15"/>
<line x1="100.5" y1="1004.9" x2="107.5" y2="1004.9" stroke="#9b9b9b" stroke-width="2.2"/>
<line x1="100.5" y1="1589.7" x2="107.5" y2="1589.7" stroke="#9b9b9b" stroke-width="2.2"/>
<rect x="107.5" y="1004.9" width="950.8" height="584.8" fill="none" stroke="#979797" stroke-width="2.5"/>
<line x1="117.2" y1="1589.7" x2="117.2" y2="1599.7" stroke="#8a8a8a" stroke-width="1.6"/>
<text x="114.3" y="1626.8" font-size="25.5" fill="#444" text-anchor="middle">0</text>
<line x1="289.8" y1="1589.7" x2="289.8" y2="1599.7" stroke="#8a8a8a" stroke-width="1.6"/>
<text x="289.1" y="1626.8" font-size="25.5" fill="#444" text-anchor="middle">500</text>
<line x1="462.4" y1="1589.7" x2="462.4" y2="1599.7" stroke="#8a8a8a" stroke-width="1.6"/>
<text x="463.9" y="1626.8" font-size="25.5" fill="#444" text-anchor="middle">1000</text>
<line x1="635" y1="1589.7" x2="635" y2="1599.7" stroke="#8a8a8a" stroke-width="1.6"/>
<text x="638.7" y="1626.8" font-size="25.5" fill="#444" text-anchor="middle">1500</text>
<line x1="807.6" y1="1589.7" x2="807.6" y2="1599.7" stroke="#8a8a8a" stroke-width="1.6"/>
<text x="813.5" y="1626.8" font-size="25.5" fill="#444" text-anchor="middle">2000</text>
<line x1="980.2" y1="1589.7" x2="980.2" y2="1599.7" stroke="#8a8a8a" stroke-width="1.6"/>
<text x="988.3" y="1626.8" font-size="25.5" fill="#444" text-anchor="middle">2500</text>
<text x="85" y="1019.9" text-anchor="end">40</text>
<text x="85" y="1302" text-anchor="end">30</text>
<text x="85" y="1592" text-anchor="end">20</text>
<text x="533" y="1657.8" fill="#000" text-anchor="middle">Proteins ranked on MS intensity</text>
<text transform="translate(43.3 1280.5) rotate(-90)" text-anchor="middle" fill="#262626">MS signal intensity (Log 2)</text>
<text x="0.5" y="995.7" font-size="49.5" fill="#333" font-weight="bold">b</text>
<text x="115.5" y="1129.2" fill="#a04a7e" font-weight="bold"><tspan font-style="italic">Zm</tspan>CYP81A9-GFP</text>
<text x="148.4" y="1247.3" fill="#0f9a6e">CYP81B2</text>
<text x="225" y="1291" fill="#0f9a6e">CYP72D8</text>
<text x="302" y="1325.7" fill="#0f9a6e">CYP92A361</text>
<text x="381.5" y="1349" fill="#0f9a6e">CYP98A33</text>
<text x="565.3" y="1383" fill="#0f9a6e">CYP98A31</text>
<text x="612.5" y="1047.3" font-size="33.9" fill="#333">Microsomal proteome (ISD)</text>
<text x="579.3" y="1116.5" fill="#333">P450s:</text>
<line x1="587.4" y1="1147.6" x2="641.5" y2="1147.6" stroke="#1fa57a" stroke-width="3"/>
<line x1="587.4" y1="1185.3" x2="641.5" y2="1185.3" stroke="#1fa57a" stroke-width="3" stroke-dasharray="3 2.6"/>
<line x1="587.4" y1="1222.6" x2="641.5" y2="1222.6" stroke="#1fa57a" stroke-width="3" stroke-dasharray="6 15"/>
<text x="651.5" y="1160.4" fill="#333">Enriched in OBD</text>
<text x="651.5" y="1198.6" fill="#333">Not enriched in OBD</text>
<text x="651.5" y="1236.7" fill="#333">Not detected in OBD</text>
<g font-size="25.5">
<rect x="1644.9" y="1071.2" width="164.9" height="31.5" fill="#808080"/>
<rect x="1813.7" y="1071.2" width="165.5" height="31.5" fill="#808080"/>
<text x="1165.3" y="1094.8" fill="#111" text-anchor="end">3</text>
<text x="1181.2" y="1094.8" fill="#111">Zm00001d013230</text>
<text x="1415.5" y="1094.8" fill="#a04a7e" font-weight="bold"><tspan font-style="italic">Zm</tspan>CYP81A9-GFP</text>
<text x="1664.6" y="1094.8" fill="#111">0.000004***</text>
<text x="1833.5" y="1094.8" fill="#111">0.00006***</text>
<rect x="1644.9" y="1106.4" width="164.9" height="32.6" fill="#808080"/>
<rect x="1813.7" y="1106.4" width="165.5" height="32.6" fill="#d2d2d2"/>
<text x="1165.3" y="1130.5" fill="#111" text-anchor="end">111</text>
<text x="1181.2" y="1130.5" fill="#111">NbD039121</text>
<text x="1415" y="1130.5" fill="#0f9a6e">CYP81B2</text>
<text x="1664.6" y="1130.5" fill="#111">0.0004***</text>
<text x="1833.5" y="1130.5" fill="#111">0.025*</text>
<rect x="1644.9" y="1142.7" width="164.9" height="32.6" fill="#c2c2c2"/>
<text x="1165.3" y="1167.5" fill="#111" text-anchor="end">358</text>
<text x="1181.2" y="1167.5" fill="#111">NbD049629</text>
<text x="1415" y="1167.5" fill="#0f9a6e">CYP72D8</text>
<text x="1664.6" y="1167.5" fill="#111">0.0084**</text>
<text x="1833.5" y="1167.5" fill="#999">0.082</text>
<rect x="1644.9" y="1179" width="164.9" height="32.6" fill="#808080"/>
<rect x="1813.7" y="1179" width="165.5" height="32.6" fill="#a9a9a9"/>
<text x="1165.3" y="1204.8" fill="#111" text-anchor="end">567</text>
<text x="1181.2" y="1204.8" fill="#111">NbE03057724</text>
<text x="1415" y="1204.8" fill="#0f9a6e">CYP92A361</text>
<text x="1664.6" y="1204.8" fill="#4a4a4a">0.0003***</text>
<text x="1833.5" y="1204.8" fill="#111">0.0019**</text>
<rect x="1644.9" y="1215.3" width="164.9" height="32.6" fill="#808080"/>
<rect x="1813.7" y="1215.3" width="165.5" height="32.6" fill="#808080"/>
<text x="1165.3" y="1242.3" fill="#111" text-anchor="end">782</text>
<text x="1181.2" y="1242.3" fill="#111">NbD000964</text>
<text x="1415" y="1242.3" fill="#0f9a6e">CYP98A33</text>
<text x="1664.6" y="1242.3" fill="#111">0.00013***</text>
<text x="1833.5" y="1242.3" fill="#111">0.00019***</text>
<rect x="1644.9" y="1251.6" width="164.9" height="32.6" fill="#808080"/>
<rect x="1813.7" y="1251.6" width="165.5" height="32.6" fill="#808080"/>
<text x="1165.3" y="1279.5" fill="#111" text-anchor="end">1329</text>
<text x="1181.2" y="1279.5" fill="#111">NbE05065515</text>
<text x="1415" y="1279.5" fill="#0f9a6e">CYP98A31</text>
<text x="1664.6" y="1279.5" fill="#111">0.0001***</text>
<text x="1833.5" y="1279.5" fill="#111">0.00011***</text>
<text x="1165.3" y="1316.7" fill="#111" text-anchor="end">1436</text>
<text x="1181.2" y="1316.7" fill="#111">NbD041770</text>
<text x="1415" y="1316.7" fill="#0f9a6e">CYP84A234</text>
<text x="1664.6" y="1316.7" fill="#999">0.56</text>
<text x="1833.5" y="1316.7" fill="#999">0.93</text>
<text x="1165.3" y="1353.7" fill="#111" text-anchor="end">1496</text>
<text x="1181.2" y="1353.7" fill="#111">NbD007620</text>
<text x="1415" y="1353.7" fill="#0f9a6e">CYP736A431</text>
<text x="1713.6" y="1353.7" fill="#999" text-anchor="middle">ND</text>
<text x="1881.1" y="1353.7" fill="#999" text-anchor="middle">ND</text>
<text x="1165.3" y="1391" fill="#111" text-anchor="end">1597</text>
<text x="1181.2" y="1391" fill="#111">NbD047028</text>
<text x="1415" y="1391" fill="#0f9a6e">CYP72A57</text>
<text x="1664.6" y="1391" fill="#999">0.052</text>
<text x="1833.5" y="1391" fill="#999">0.53</text>
<text x="1165.3" y="1427.9" fill="#111" text-anchor="end">1633</text>
<text x="1181.2" y="1427.9" fill="#111">NbD047029</text>
<text x="1415" y="1427.9" fill="#0f9a6e">CYP72A56</text>
<text x="1664.6" y="1427.9" fill="#999">0.13</text>
<text x="1833.5" y="1427.9" fill="#999">0.35</text>
<text x="1165.3" y="1465.4" fill="#111" text-anchor="end">1650</text>
<text x="1181.2" y="1465.4" fill="#111">NbD012321</text>
<text x="1415" y="1465.4" fill="#0f9a6e">CYP97B22</text>
<text x="1664.6" y="1465.4" fill="#999">0.19</text>
<text x="1833.5" y="1465.4" fill="#999">0.49</text>
<text x="1165.3" y="1502.4" fill="#111" text-anchor="end">1799</text>
<text x="1181.2" y="1502.4" fill="#111">NbD050055</text>
<text x="1415" y="1502.4" fill="#0f9a6e">CYP89A72</text>
<text x="1713.6" y="1502.4" fill="#999" text-anchor="middle">ND</text>
<text x="1881.1" y="1502.4" fill="#999" text-anchor="middle">ND</text>
<text x="1165.3" y="1539.6" fill="#111" text-anchor="end">2435</text>
<text x="1181.2" y="1539.6" fill="#111">NbD034063</text>
<text x="1415" y="1539.6" fill="#0f9a6e">CYP77A20</text>
<text x="1713.6" y="1539.6" fill="#999" text-anchor="middle">ND</text>
<text x="1881.1" y="1539.6" fill="#999" text-anchor="middle">ND</text>
<text x="1165.3" y="1576.5" fill="#111" text-anchor="end">2553</text>
<text x="1181.2" y="1576.5" fill="#111">NbD023242</text>
<text x="1415" y="1576.5" fill="#0f9a6e">CYP76A158</text>
<text x="1713.6" y="1576.5" fill="#999" text-anchor="middle">ND</text>
<text x="1881.1" y="1576.5" fill="#999" text-anchor="middle">ND</text>
<text x="1105" y="1037.5" fill="#111" font-weight="bold">Rank</text>
<text x="1105" y="1065.4" fill="#111" font-weight="bold">(ISD)</text>
<text x="1181.5" y="1065.4" fill="#111" font-weight="bold">Accession</text>
<text x="1415.5" y="1065.6" fill="#111" font-weight="bold">Annotation*</text>
<text x="1669.5" y="1032.7" fill="#111" font-weight="bold" text-decoration="underline">Adjusted P-value OBD</text>
<text x="1664.5" y="1063" fill="#111" font-weight="bold">DB088</text>
<text x="1829" y="1063" fill="#111" font-weight="bold">DB096</text>
</g>
<line x1="1088.5" y1="1070" x2="1979.6" y2="1070" stroke="#8f8f8f" stroke-width="2"/>
<rect x="1088.5" y="1004.9" width="891.1" height="584.8" fill="none" stroke="#979797" stroke-width="2.5"/>
<text x="1710.5" y="1631.8">ND, Not detected</text>
</svg>
</body>
</html>
